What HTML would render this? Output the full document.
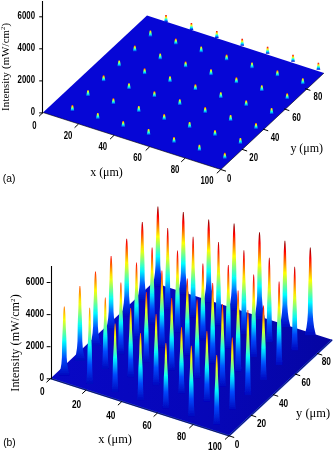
<!DOCTYPE html>
<html><head><meta charset="utf-8"><title>Figure</title>
<style>html,body{margin:0;padding:0;background:#fff}svg{display:block}</style></head>
<body><svg width="333" height="452" viewBox="0 0 333 452">
<defs><filter id="bla" x="-5%" y="-5%" width="110%" height="110%"><feGaussianBlur stdDeviation="0.35"/></filter><filter id="bl" x="-5%" y="-5%" width="110%" height="110%"><feGaussianBlur stdDeviation="0.6"/></filter><linearGradient id="ga_r" x1="0" y1="0" x2="0" y2="1"><stop offset="0.000" stop-color="rgb(209,0,0)"/><stop offset="0.111" stop-color="rgb(255,51,0)"/><stop offset="0.222" stop-color="rgb(255,149,0)"/><stop offset="0.333" stop-color="rgb(255,246,0)"/><stop offset="0.444" stop-color="rgb(165,255,89)"/><stop offset="0.556" stop-color="rgb(67,255,187)"/><stop offset="0.667" stop-color="rgb(0,225,255)"/><stop offset="0.778" stop-color="rgb(1,142,246)"/><stop offset="0.889" stop-color="rgb(3,74,230)"/><stop offset="1.000" stop-color="rgb(6,6,214)"/></linearGradient><linearGradient id="ga_y" x1="0" y1="0" x2="0" y2="1"><stop offset="0.000" stop-color="rgb(255,158,0)"/><stop offset="0.111" stop-color="rgb(255,224,0)"/><stop offset="0.222" stop-color="rgb(219,255,35)"/><stop offset="0.333" stop-color="rgb(153,255,101)"/><stop offset="0.444" stop-color="rgb(87,255,167)"/><stop offset="0.556" stop-color="rgb(21,255,233)"/><stop offset="0.667" stop-color="rgb(0,210,255)"/><stop offset="0.778" stop-color="rgb(1,142,246)"/><stop offset="0.889" stop-color="rgb(3,74,230)"/><stop offset="1.000" stop-color="rgb(6,6,214)"/></linearGradient><linearGradient id="ga_o" x1="0" y1="0" x2="0" y2="1"><stop offset="0.000" stop-color="rgb(255,56,0)"/><stop offset="0.111" stop-color="rgb(255,137,0)"/><stop offset="0.222" stop-color="rgb(255,219,0)"/><stop offset="0.333" stop-color="rgb(208,255,46)"/><stop offset="0.444" stop-color="rgb(126,255,128)"/><stop offset="0.556" stop-color="rgb(44,255,210)"/><stop offset="0.667" stop-color="rgb(0,217,255)"/><stop offset="0.778" stop-color="rgb(1,142,246)"/><stop offset="0.889" stop-color="rgb(3,74,230)"/><stop offset="1.000" stop-color="rgb(6,6,214)"/></linearGradient><linearGradient id="sb" gradientUnits="userSpaceOnUse" x1="50" y1="0" x2="333" y2="0"><stop offset="0" stop-color="#0808c6"/><stop offset="0.55" stop-color="#0606b8"/><stop offset="1" stop-color="#0505a2"/></linearGradient><linearGradient id="gb" x1="0" y1="0" x2="0" y2="1"><stop offset="0.000" stop-color="rgb(158,0,0)"/><stop offset="0.083" stop-color="rgb(237,0,0)"/><stop offset="0.167" stop-color="rgb(255,61,0)"/><stop offset="0.250" stop-color="rgb(255,140,0)"/><stop offset="0.333" stop-color="rgb(255,219,0)"/><stop offset="0.417" stop-color="rgb(211,255,43)"/><stop offset="0.500" stop-color="rgb(132,255,122)"/><stop offset="0.583" stop-color="rgb(53,255,201)"/><stop offset="0.667" stop-color="rgb(0,229,255)"/><stop offset="0.750" stop-color="rgb(0,159,250)"/><stop offset="0.833" stop-color="rgb(2,108,238)"/><stop offset="0.917" stop-color="rgb(4,57,226)"/><stop offset="1.000" stop-color="rgb(6,6,214)"/></linearGradient><linearGradient id="g06" x1="0" y1="0" x2="0" y2="1"><stop offset="0.000" stop-color="rgb(127,0,0)"/><stop offset="0.062" stop-color="rgb(191,0,0)"/><stop offset="0.125" stop-color="rgb(255,0,0)"/><stop offset="0.188" stop-color="rgb(255,63,0)"/><stop offset="0.250" stop-color="rgb(255,127,0)"/><stop offset="0.312" stop-color="rgb(255,191,0)"/><stop offset="0.375" stop-color="rgb(255,255,0)"/><stop offset="0.438" stop-color="rgb(191,255,63)"/><stop offset="0.500" stop-color="rgb(127,255,127)"/><stop offset="0.562" stop-color="rgb(63,255,191)"/><stop offset="0.625" stop-color="rgb(0,255,255)"/><stop offset="0.688" stop-color="rgb(0,191,255)"/><stop offset="0.750" stop-color="rgb(0,127,255)"/><stop offset="0.812" stop-color="rgb(0,71,250)"/><stop offset="0.875" stop-color="rgb(2,49,230)"/><stop offset="0.938" stop-color="rgb(4,27,210)"/><stop offset="1.000" stop-color="rgb(6,6,190)"/></linearGradient><linearGradient id="g16" x1="0" y1="0" x2="0" y2="1"><stop offset="0.000" stop-color="rgb(127,0,0)"/><stop offset="0.062" stop-color="rgb(191,0,0)"/><stop offset="0.125" stop-color="rgb(255,0,0)"/><stop offset="0.188" stop-color="rgb(255,63,0)"/><stop offset="0.250" stop-color="rgb(255,127,0)"/><stop offset="0.312" stop-color="rgb(255,191,0)"/><stop offset="0.375" stop-color="rgb(255,255,0)"/><stop offset="0.438" stop-color="rgb(191,255,63)"/><stop offset="0.500" stop-color="rgb(127,255,127)"/><stop offset="0.562" stop-color="rgb(63,255,191)"/><stop offset="0.625" stop-color="rgb(0,255,255)"/><stop offset="0.688" stop-color="rgb(0,191,255)"/><stop offset="0.750" stop-color="rgb(0,127,255)"/><stop offset="0.812" stop-color="rgb(0,71,250)"/><stop offset="0.875" stop-color="rgb(2,49,230)"/><stop offset="0.938" stop-color="rgb(4,27,210)"/><stop offset="1.000" stop-color="rgb(6,6,190)"/></linearGradient><linearGradient id="g26" x1="0" y1="0" x2="0" y2="1"><stop offset="0.000" stop-color="rgb(127,0,0)"/><stop offset="0.062" stop-color="rgb(191,0,0)"/><stop offset="0.125" stop-color="rgb(255,0,0)"/><stop offset="0.188" stop-color="rgb(255,63,0)"/><stop offset="0.250" stop-color="rgb(255,127,0)"/><stop offset="0.312" stop-color="rgb(255,191,0)"/><stop offset="0.375" stop-color="rgb(255,255,0)"/><stop offset="0.438" stop-color="rgb(191,255,63)"/><stop offset="0.500" stop-color="rgb(127,255,127)"/><stop offset="0.562" stop-color="rgb(63,255,191)"/><stop offset="0.625" stop-color="rgb(0,255,255)"/><stop offset="0.688" stop-color="rgb(0,191,255)"/><stop offset="0.750" stop-color="rgb(0,127,255)"/><stop offset="0.812" stop-color="rgb(0,71,250)"/><stop offset="0.875" stop-color="rgb(2,49,230)"/><stop offset="0.938" stop-color="rgb(4,27,210)"/><stop offset="1.000" stop-color="rgb(6,6,190)"/></linearGradient><linearGradient id="g36" x1="0" y1="0" x2="0" y2="1"><stop offset="0.000" stop-color="rgb(127,0,0)"/><stop offset="0.062" stop-color="rgb(191,0,0)"/><stop offset="0.125" stop-color="rgb(255,0,0)"/><stop offset="0.188" stop-color="rgb(255,63,0)"/><stop offset="0.250" stop-color="rgb(255,127,0)"/><stop offset="0.312" stop-color="rgb(255,191,0)"/><stop offset="0.375" stop-color="rgb(255,255,0)"/><stop offset="0.438" stop-color="rgb(191,255,63)"/><stop offset="0.500" stop-color="rgb(127,255,127)"/><stop offset="0.562" stop-color="rgb(63,255,191)"/><stop offset="0.625" stop-color="rgb(0,255,255)"/><stop offset="0.688" stop-color="rgb(0,191,255)"/><stop offset="0.750" stop-color="rgb(0,127,255)"/><stop offset="0.812" stop-color="rgb(0,71,250)"/><stop offset="0.875" stop-color="rgb(2,49,230)"/><stop offset="0.938" stop-color="rgb(4,27,210)"/><stop offset="1.000" stop-color="rgb(6,6,190)"/></linearGradient><linearGradient id="g46" x1="0" y1="0" x2="0" y2="1"><stop offset="0.000" stop-color="rgb(127,0,0)"/><stop offset="0.062" stop-color="rgb(191,0,0)"/><stop offset="0.125" stop-color="rgb(255,0,0)"/><stop offset="0.188" stop-color="rgb(255,63,0)"/><stop offset="0.250" stop-color="rgb(255,127,0)"/><stop offset="0.312" stop-color="rgb(255,191,0)"/><stop offset="0.375" stop-color="rgb(255,255,0)"/><stop offset="0.438" stop-color="rgb(191,255,63)"/><stop offset="0.500" stop-color="rgb(127,255,127)"/><stop offset="0.562" stop-color="rgb(63,255,191)"/><stop offset="0.625" stop-color="rgb(0,255,255)"/><stop offset="0.688" stop-color="rgb(0,191,255)"/><stop offset="0.750" stop-color="rgb(0,127,255)"/><stop offset="0.812" stop-color="rgb(0,71,250)"/><stop offset="0.875" stop-color="rgb(2,49,230)"/><stop offset="0.938" stop-color="rgb(4,27,210)"/><stop offset="1.000" stop-color="rgb(6,6,190)"/></linearGradient><linearGradient id="g56" x1="0" y1="0" x2="0" y2="1"><stop offset="0.000" stop-color="rgb(127,0,0)"/><stop offset="0.062" stop-color="rgb(191,0,0)"/><stop offset="0.125" stop-color="rgb(255,0,0)"/><stop offset="0.188" stop-color="rgb(255,63,0)"/><stop offset="0.250" stop-color="rgb(255,127,0)"/><stop offset="0.312" stop-color="rgb(255,191,0)"/><stop offset="0.375" stop-color="rgb(255,255,0)"/><stop offset="0.438" stop-color="rgb(191,255,63)"/><stop offset="0.500" stop-color="rgb(127,255,127)"/><stop offset="0.562" stop-color="rgb(63,255,191)"/><stop offset="0.625" stop-color="rgb(0,255,255)"/><stop offset="0.688" stop-color="rgb(0,191,255)"/><stop offset="0.750" stop-color="rgb(0,127,255)"/><stop offset="0.812" stop-color="rgb(0,71,250)"/><stop offset="0.875" stop-color="rgb(2,49,230)"/><stop offset="0.938" stop-color="rgb(4,27,210)"/><stop offset="1.000" stop-color="rgb(6,6,190)"/></linearGradient><linearGradient id="g66" x1="0" y1="0" x2="0" y2="1"><stop offset="0.000" stop-color="rgb(127,0,0)"/><stop offset="0.062" stop-color="rgb(191,0,0)"/><stop offset="0.125" stop-color="rgb(255,0,0)"/><stop offset="0.188" stop-color="rgb(255,63,0)"/><stop offset="0.250" stop-color="rgb(255,127,0)"/><stop offset="0.312" stop-color="rgb(255,191,0)"/><stop offset="0.375" stop-color="rgb(255,255,0)"/><stop offset="0.438" stop-color="rgb(191,255,63)"/><stop offset="0.500" stop-color="rgb(127,255,127)"/><stop offset="0.562" stop-color="rgb(63,255,191)"/><stop offset="0.625" stop-color="rgb(0,255,255)"/><stop offset="0.688" stop-color="rgb(0,191,255)"/><stop offset="0.750" stop-color="rgb(0,127,255)"/><stop offset="0.812" stop-color="rgb(0,71,250)"/><stop offset="0.875" stop-color="rgb(2,49,230)"/><stop offset="0.938" stop-color="rgb(4,27,210)"/><stop offset="1.000" stop-color="rgb(6,6,190)"/></linearGradient><linearGradient id="g05" x1="0" y1="0" x2="0" y2="1"><stop offset="0.000" stop-color="rgb(168,0,0)"/><stop offset="0.062" stop-color="rgb(229,0,0)"/><stop offset="0.125" stop-color="rgb(255,35,0)"/><stop offset="0.188" stop-color="rgb(255,96,0)"/><stop offset="0.250" stop-color="rgb(255,158,0)"/><stop offset="0.312" stop-color="rgb(255,219,0)"/><stop offset="0.375" stop-color="rgb(229,255,25)"/><stop offset="0.438" stop-color="rgb(168,255,86)"/><stop offset="0.500" stop-color="rgb(107,255,147)"/><stop offset="0.562" stop-color="rgb(45,255,209)"/><stop offset="0.625" stop-color="rgb(0,239,255)"/><stop offset="0.688" stop-color="rgb(0,178,255)"/><stop offset="0.750" stop-color="rgb(0,117,255)"/><stop offset="0.812" stop-color="rgb(0,69,248)"/><stop offset="0.875" stop-color="rgb(2,48,229)"/><stop offset="0.938" stop-color="rgb(4,27,209)"/><stop offset="1.000" stop-color="rgb(6,6,190)"/></linearGradient><linearGradient id="g15" x1="0" y1="0" x2="0" y2="1"><stop offset="0.000" stop-color="rgb(168,0,0)"/><stop offset="0.062" stop-color="rgb(229,0,0)"/><stop offset="0.125" stop-color="rgb(255,35,0)"/><stop offset="0.188" stop-color="rgb(255,96,0)"/><stop offset="0.250" stop-color="rgb(255,158,0)"/><stop offset="0.312" stop-color="rgb(255,219,0)"/><stop offset="0.375" stop-color="rgb(229,255,25)"/><stop offset="0.438" stop-color="rgb(168,255,86)"/><stop offset="0.500" stop-color="rgb(107,255,147)"/><stop offset="0.562" stop-color="rgb(45,255,209)"/><stop offset="0.625" stop-color="rgb(0,239,255)"/><stop offset="0.688" stop-color="rgb(0,178,255)"/><stop offset="0.750" stop-color="rgb(0,117,255)"/><stop offset="0.812" stop-color="rgb(0,69,248)"/><stop offset="0.875" stop-color="rgb(2,48,229)"/><stop offset="0.938" stop-color="rgb(4,27,209)"/><stop offset="1.000" stop-color="rgb(6,6,190)"/></linearGradient><linearGradient id="g25" x1="0" y1="0" x2="0" y2="1"><stop offset="0.000" stop-color="rgb(168,0,0)"/><stop offset="0.062" stop-color="rgb(229,0,0)"/><stop offset="0.125" stop-color="rgb(255,35,0)"/><stop offset="0.188" stop-color="rgb(255,96,0)"/><stop offset="0.250" stop-color="rgb(255,158,0)"/><stop offset="0.312" stop-color="rgb(255,219,0)"/><stop offset="0.375" stop-color="rgb(229,255,25)"/><stop offset="0.438" stop-color="rgb(168,255,86)"/><stop offset="0.500" stop-color="rgb(107,255,147)"/><stop offset="0.562" stop-color="rgb(45,255,209)"/><stop offset="0.625" stop-color="rgb(0,239,255)"/><stop offset="0.688" stop-color="rgb(0,178,255)"/><stop offset="0.750" stop-color="rgb(0,117,255)"/><stop offset="0.812" stop-color="rgb(0,69,248)"/><stop offset="0.875" stop-color="rgb(2,48,229)"/><stop offset="0.938" stop-color="rgb(4,27,209)"/><stop offset="1.000" stop-color="rgb(6,6,190)"/></linearGradient><linearGradient id="g35" x1="0" y1="0" x2="0" y2="1"><stop offset="0.000" stop-color="rgb(168,0,0)"/><stop offset="0.062" stop-color="rgb(229,0,0)"/><stop offset="0.125" stop-color="rgb(255,35,0)"/><stop offset="0.188" stop-color="rgb(255,96,0)"/><stop offset="0.250" stop-color="rgb(255,158,0)"/><stop offset="0.312" stop-color="rgb(255,219,0)"/><stop offset="0.375" stop-color="rgb(229,255,25)"/><stop offset="0.438" stop-color="rgb(168,255,86)"/><stop offset="0.500" stop-color="rgb(107,255,147)"/><stop offset="0.562" stop-color="rgb(45,255,209)"/><stop offset="0.625" stop-color="rgb(0,239,255)"/><stop offset="0.688" stop-color="rgb(0,178,255)"/><stop offset="0.750" stop-color="rgb(0,117,255)"/><stop offset="0.812" stop-color="rgb(0,69,248)"/><stop offset="0.875" stop-color="rgb(2,48,229)"/><stop offset="0.938" stop-color="rgb(4,27,209)"/><stop offset="1.000" stop-color="rgb(6,6,190)"/></linearGradient><linearGradient id="g45" x1="0" y1="0" x2="0" y2="1"><stop offset="0.000" stop-color="rgb(168,0,0)"/><stop offset="0.062" stop-color="rgb(229,0,0)"/><stop offset="0.125" stop-color="rgb(255,35,0)"/><stop offset="0.188" stop-color="rgb(255,96,0)"/><stop offset="0.250" stop-color="rgb(255,158,0)"/><stop offset="0.312" stop-color="rgb(255,219,0)"/><stop offset="0.375" stop-color="rgb(229,255,25)"/><stop offset="0.438" stop-color="rgb(168,255,86)"/><stop offset="0.500" stop-color="rgb(107,255,147)"/><stop offset="0.562" stop-color="rgb(45,255,209)"/><stop offset="0.625" stop-color="rgb(0,239,255)"/><stop offset="0.688" stop-color="rgb(0,178,255)"/><stop offset="0.750" stop-color="rgb(0,117,255)"/><stop offset="0.812" stop-color="rgb(0,69,248)"/><stop offset="0.875" stop-color="rgb(2,48,229)"/><stop offset="0.938" stop-color="rgb(4,27,209)"/><stop offset="1.000" stop-color="rgb(6,6,190)"/></linearGradient><linearGradient id="g55" x1="0" y1="0" x2="0" y2="1"><stop offset="0.000" stop-color="rgb(168,0,0)"/><stop offset="0.062" stop-color="rgb(229,0,0)"/><stop offset="0.125" stop-color="rgb(255,35,0)"/><stop offset="0.188" stop-color="rgb(255,96,0)"/><stop offset="0.250" stop-color="rgb(255,158,0)"/><stop offset="0.312" stop-color="rgb(255,219,0)"/><stop offset="0.375" stop-color="rgb(229,255,25)"/><stop offset="0.438" stop-color="rgb(168,255,86)"/><stop offset="0.500" stop-color="rgb(107,255,147)"/><stop offset="0.562" stop-color="rgb(45,255,209)"/><stop offset="0.625" stop-color="rgb(0,239,255)"/><stop offset="0.688" stop-color="rgb(0,178,255)"/><stop offset="0.750" stop-color="rgb(0,117,255)"/><stop offset="0.812" stop-color="rgb(0,69,248)"/><stop offset="0.875" stop-color="rgb(2,48,229)"/><stop offset="0.938" stop-color="rgb(4,27,209)"/><stop offset="1.000" stop-color="rgb(6,6,190)"/></linearGradient><linearGradient id="g65" x1="0" y1="0" x2="0" y2="1"><stop offset="0.000" stop-color="rgb(168,0,0)"/><stop offset="0.062" stop-color="rgb(229,0,0)"/><stop offset="0.125" stop-color="rgb(255,35,0)"/><stop offset="0.188" stop-color="rgb(255,96,0)"/><stop offset="0.250" stop-color="rgb(255,158,0)"/><stop offset="0.312" stop-color="rgb(255,219,0)"/><stop offset="0.375" stop-color="rgb(229,255,25)"/><stop offset="0.438" stop-color="rgb(168,255,86)"/><stop offset="0.500" stop-color="rgb(107,255,147)"/><stop offset="0.562" stop-color="rgb(45,255,209)"/><stop offset="0.625" stop-color="rgb(0,239,255)"/><stop offset="0.688" stop-color="rgb(0,178,255)"/><stop offset="0.750" stop-color="rgb(0,117,255)"/><stop offset="0.812" stop-color="rgb(0,69,248)"/><stop offset="0.875" stop-color="rgb(2,48,229)"/><stop offset="0.938" stop-color="rgb(4,27,209)"/><stop offset="1.000" stop-color="rgb(6,6,190)"/></linearGradient><linearGradient id="g04" x1="0" y1="0" x2="0" y2="1"><stop offset="0.000" stop-color="rgb(209,0,0)"/><stop offset="0.062" stop-color="rgb(255,12,0)"/><stop offset="0.125" stop-color="rgb(255,71,0)"/><stop offset="0.188" stop-color="rgb(255,130,0)"/><stop offset="0.250" stop-color="rgb(255,188,0)"/><stop offset="0.312" stop-color="rgb(255,247,0)"/><stop offset="0.375" stop-color="rgb(204,255,50)"/><stop offset="0.438" stop-color="rgb(145,255,109)"/><stop offset="0.500" stop-color="rgb(86,255,168)"/><stop offset="0.562" stop-color="rgb(28,255,226)"/><stop offset="0.625" stop-color="rgb(0,224,255)"/><stop offset="0.688" stop-color="rgb(0,165,255)"/><stop offset="0.750" stop-color="rgb(0,107,255)"/><stop offset="0.812" stop-color="rgb(0,66,246)"/><stop offset="0.875" stop-color="rgb(2,46,227)"/><stop offset="0.938" stop-color="rgb(4,26,208)"/><stop offset="1.000" stop-color="rgb(6,6,190)"/></linearGradient><linearGradient id="g14" x1="0" y1="0" x2="0" y2="1"><stop offset="0.000" stop-color="rgb(209,0,0)"/><stop offset="0.062" stop-color="rgb(255,12,0)"/><stop offset="0.125" stop-color="rgb(255,71,0)"/><stop offset="0.188" stop-color="rgb(255,130,0)"/><stop offset="0.250" stop-color="rgb(255,188,0)"/><stop offset="0.312" stop-color="rgb(255,247,0)"/><stop offset="0.375" stop-color="rgb(204,255,50)"/><stop offset="0.438" stop-color="rgb(145,255,109)"/><stop offset="0.500" stop-color="rgb(86,255,168)"/><stop offset="0.562" stop-color="rgb(28,255,226)"/><stop offset="0.625" stop-color="rgb(0,224,255)"/><stop offset="0.688" stop-color="rgb(0,165,255)"/><stop offset="0.750" stop-color="rgb(0,107,255)"/><stop offset="0.812" stop-color="rgb(0,66,246)"/><stop offset="0.875" stop-color="rgb(2,46,227)"/><stop offset="0.938" stop-color="rgb(4,26,208)"/><stop offset="1.000" stop-color="rgb(6,6,190)"/></linearGradient><linearGradient id="g24" x1="0" y1="0" x2="0" y2="1"><stop offset="0.000" stop-color="rgb(209,0,0)"/><stop offset="0.062" stop-color="rgb(255,12,0)"/><stop offset="0.125" stop-color="rgb(255,71,0)"/><stop offset="0.188" stop-color="rgb(255,130,0)"/><stop offset="0.250" stop-color="rgb(255,188,0)"/><stop offset="0.312" stop-color="rgb(255,247,0)"/><stop offset="0.375" stop-color="rgb(204,255,50)"/><stop offset="0.438" stop-color="rgb(145,255,109)"/><stop offset="0.500" stop-color="rgb(86,255,168)"/><stop offset="0.562" stop-color="rgb(28,255,226)"/><stop offset="0.625" stop-color="rgb(0,224,255)"/><stop offset="0.688" stop-color="rgb(0,165,255)"/><stop offset="0.750" stop-color="rgb(0,107,255)"/><stop offset="0.812" stop-color="rgb(0,66,246)"/><stop offset="0.875" stop-color="rgb(2,46,227)"/><stop offset="0.938" stop-color="rgb(4,26,208)"/><stop offset="1.000" stop-color="rgb(6,6,190)"/></linearGradient><linearGradient id="g34" x1="0" y1="0" x2="0" y2="1"><stop offset="0.000" stop-color="rgb(209,0,0)"/><stop offset="0.062" stop-color="rgb(255,12,0)"/><stop offset="0.125" stop-color="rgb(255,71,0)"/><stop offset="0.188" stop-color="rgb(255,130,0)"/><stop offset="0.250" stop-color="rgb(255,188,0)"/><stop offset="0.312" stop-color="rgb(255,247,0)"/><stop offset="0.375" stop-color="rgb(204,255,50)"/><stop offset="0.438" stop-color="rgb(145,255,109)"/><stop offset="0.500" stop-color="rgb(86,255,168)"/><stop offset="0.562" stop-color="rgb(28,255,226)"/><stop offset="0.625" stop-color="rgb(0,224,255)"/><stop offset="0.688" stop-color="rgb(0,165,255)"/><stop offset="0.750" stop-color="rgb(0,107,255)"/><stop offset="0.812" stop-color="rgb(0,66,246)"/><stop offset="0.875" stop-color="rgb(2,46,227)"/><stop offset="0.938" stop-color="rgb(4,26,208)"/><stop offset="1.000" stop-color="rgb(6,6,190)"/></linearGradient><linearGradient id="g44" x1="0" y1="0" x2="0" y2="1"><stop offset="0.000" stop-color="rgb(209,0,0)"/><stop offset="0.062" stop-color="rgb(255,12,0)"/><stop offset="0.125" stop-color="rgb(255,71,0)"/><stop offset="0.188" stop-color="rgb(255,130,0)"/><stop offset="0.250" stop-color="rgb(255,188,0)"/><stop offset="0.312" stop-color="rgb(255,247,0)"/><stop offset="0.375" stop-color="rgb(204,255,50)"/><stop offset="0.438" stop-color="rgb(145,255,109)"/><stop offset="0.500" stop-color="rgb(86,255,168)"/><stop offset="0.562" stop-color="rgb(28,255,226)"/><stop offset="0.625" stop-color="rgb(0,224,255)"/><stop offset="0.688" stop-color="rgb(0,165,255)"/><stop offset="0.750" stop-color="rgb(0,107,255)"/><stop offset="0.812" stop-color="rgb(0,66,246)"/><stop offset="0.875" stop-color="rgb(2,46,227)"/><stop offset="0.938" stop-color="rgb(4,26,208)"/><stop offset="1.000" stop-color="rgb(6,6,190)"/></linearGradient><linearGradient id="g54" x1="0" y1="0" x2="0" y2="1"><stop offset="0.000" stop-color="rgb(209,0,0)"/><stop offset="0.062" stop-color="rgb(255,12,0)"/><stop offset="0.125" stop-color="rgb(255,71,0)"/><stop offset="0.188" stop-color="rgb(255,130,0)"/><stop offset="0.250" stop-color="rgb(255,188,0)"/><stop offset="0.312" stop-color="rgb(255,247,0)"/><stop offset="0.375" stop-color="rgb(204,255,50)"/><stop offset="0.438" stop-color="rgb(145,255,109)"/><stop offset="0.500" stop-color="rgb(86,255,168)"/><stop offset="0.562" stop-color="rgb(28,255,226)"/><stop offset="0.625" stop-color="rgb(0,224,255)"/><stop offset="0.688" stop-color="rgb(0,165,255)"/><stop offset="0.750" stop-color="rgb(0,107,255)"/><stop offset="0.812" stop-color="rgb(0,66,246)"/><stop offset="0.875" stop-color="rgb(2,46,227)"/><stop offset="0.938" stop-color="rgb(4,26,208)"/><stop offset="1.000" stop-color="rgb(6,6,190)"/></linearGradient><linearGradient id="g64" x1="0" y1="0" x2="0" y2="1"><stop offset="0.000" stop-color="rgb(209,0,0)"/><stop offset="0.062" stop-color="rgb(255,12,0)"/><stop offset="0.125" stop-color="rgb(255,71,0)"/><stop offset="0.188" stop-color="rgb(255,130,0)"/><stop offset="0.250" stop-color="rgb(255,188,0)"/><stop offset="0.312" stop-color="rgb(255,247,0)"/><stop offset="0.375" stop-color="rgb(204,255,50)"/><stop offset="0.438" stop-color="rgb(145,255,109)"/><stop offset="0.500" stop-color="rgb(86,255,168)"/><stop offset="0.562" stop-color="rgb(28,255,226)"/><stop offset="0.625" stop-color="rgb(0,224,255)"/><stop offset="0.688" stop-color="rgb(0,165,255)"/><stop offset="0.750" stop-color="rgb(0,107,255)"/><stop offset="0.812" stop-color="rgb(0,66,246)"/><stop offset="0.875" stop-color="rgb(2,46,227)"/><stop offset="0.938" stop-color="rgb(4,26,208)"/><stop offset="1.000" stop-color="rgb(6,6,190)"/></linearGradient><linearGradient id="g03" x1="0" y1="0" x2="0" y2="1"><stop offset="0.000" stop-color="rgb(249,0,0)"/><stop offset="0.062" stop-color="rgb(255,51,0)"/><stop offset="0.125" stop-color="rgb(255,107,0)"/><stop offset="0.188" stop-color="rgb(255,163,0)"/><stop offset="0.250" stop-color="rgb(255,219,0)"/><stop offset="0.312" stop-color="rgb(234,255,20)"/><stop offset="0.375" stop-color="rgb(178,255,76)"/><stop offset="0.438" stop-color="rgb(122,255,132)"/><stop offset="0.500" stop-color="rgb(66,255,188)"/><stop offset="0.562" stop-color="rgb(10,255,244)"/><stop offset="0.625" stop-color="rgb(0,209,255)"/><stop offset="0.688" stop-color="rgb(0,153,255)"/><stop offset="0.750" stop-color="rgb(0,96,255)"/><stop offset="0.812" stop-color="rgb(1,63,243)"/><stop offset="0.875" stop-color="rgb(2,44,225)"/><stop offset="0.938" stop-color="rgb(4,25,207)"/><stop offset="1.000" stop-color="rgb(6,6,190)"/></linearGradient><linearGradient id="g13" x1="0" y1="0" x2="0" y2="1"><stop offset="0.000" stop-color="rgb(249,0,0)"/><stop offset="0.062" stop-color="rgb(255,51,0)"/><stop offset="0.125" stop-color="rgb(255,107,0)"/><stop offset="0.188" stop-color="rgb(255,163,0)"/><stop offset="0.250" stop-color="rgb(255,219,0)"/><stop offset="0.312" stop-color="rgb(234,255,20)"/><stop offset="0.375" stop-color="rgb(178,255,76)"/><stop offset="0.438" stop-color="rgb(122,255,132)"/><stop offset="0.500" stop-color="rgb(66,255,188)"/><stop offset="0.562" stop-color="rgb(10,255,244)"/><stop offset="0.625" stop-color="rgb(0,209,255)"/><stop offset="0.688" stop-color="rgb(0,153,255)"/><stop offset="0.750" stop-color="rgb(0,96,255)"/><stop offset="0.812" stop-color="rgb(1,63,243)"/><stop offset="0.875" stop-color="rgb(2,44,225)"/><stop offset="0.938" stop-color="rgb(4,25,207)"/><stop offset="1.000" stop-color="rgb(6,6,190)"/></linearGradient><linearGradient id="g23" x1="0" y1="0" x2="0" y2="1"><stop offset="0.000" stop-color="rgb(249,0,0)"/><stop offset="0.062" stop-color="rgb(255,51,0)"/><stop offset="0.125" stop-color="rgb(255,107,0)"/><stop offset="0.188" stop-color="rgb(255,163,0)"/><stop offset="0.250" stop-color="rgb(255,219,0)"/><stop offset="0.312" stop-color="rgb(234,255,20)"/><stop offset="0.375" stop-color="rgb(178,255,76)"/><stop offset="0.438" stop-color="rgb(122,255,132)"/><stop offset="0.500" stop-color="rgb(66,255,188)"/><stop offset="0.562" stop-color="rgb(10,255,244)"/><stop offset="0.625" stop-color="rgb(0,209,255)"/><stop offset="0.688" stop-color="rgb(0,153,255)"/><stop offset="0.750" stop-color="rgb(0,96,255)"/><stop offset="0.812" stop-color="rgb(1,63,243)"/><stop offset="0.875" stop-color="rgb(2,44,225)"/><stop offset="0.938" stop-color="rgb(4,25,207)"/><stop offset="1.000" stop-color="rgb(6,6,190)"/></linearGradient><linearGradient id="g33" x1="0" y1="0" x2="0" y2="1"><stop offset="0.000" stop-color="rgb(249,0,0)"/><stop offset="0.062" stop-color="rgb(255,51,0)"/><stop offset="0.125" stop-color="rgb(255,107,0)"/><stop offset="0.188" stop-color="rgb(255,163,0)"/><stop offset="0.250" stop-color="rgb(255,219,0)"/><stop offset="0.312" stop-color="rgb(234,255,20)"/><stop offset="0.375" stop-color="rgb(178,255,76)"/><stop offset="0.438" stop-color="rgb(122,255,132)"/><stop offset="0.500" stop-color="rgb(66,255,188)"/><stop offset="0.562" stop-color="rgb(10,255,244)"/><stop offset="0.625" stop-color="rgb(0,209,255)"/><stop offset="0.688" stop-color="rgb(0,153,255)"/><stop offset="0.750" stop-color="rgb(0,96,255)"/><stop offset="0.812" stop-color="rgb(1,63,243)"/><stop offset="0.875" stop-color="rgb(2,44,225)"/><stop offset="0.938" stop-color="rgb(4,25,207)"/><stop offset="1.000" stop-color="rgb(6,6,190)"/></linearGradient><linearGradient id="g43" x1="0" y1="0" x2="0" y2="1"><stop offset="0.000" stop-color="rgb(249,0,0)"/><stop offset="0.062" stop-color="rgb(255,51,0)"/><stop offset="0.125" stop-color="rgb(255,107,0)"/><stop offset="0.188" stop-color="rgb(255,163,0)"/><stop offset="0.250" stop-color="rgb(255,219,0)"/><stop offset="0.312" stop-color="rgb(234,255,20)"/><stop offset="0.375" stop-color="rgb(178,255,76)"/><stop offset="0.438" stop-color="rgb(122,255,132)"/><stop offset="0.500" stop-color="rgb(66,255,188)"/><stop offset="0.562" stop-color="rgb(10,255,244)"/><stop offset="0.625" stop-color="rgb(0,209,255)"/><stop offset="0.688" stop-color="rgb(0,153,255)"/><stop offset="0.750" stop-color="rgb(0,96,255)"/><stop offset="0.812" stop-color="rgb(1,63,243)"/><stop offset="0.875" stop-color="rgb(2,44,225)"/><stop offset="0.938" stop-color="rgb(4,25,207)"/><stop offset="1.000" stop-color="rgb(6,6,190)"/></linearGradient><linearGradient id="g53" x1="0" y1="0" x2="0" y2="1"><stop offset="0.000" stop-color="rgb(249,0,0)"/><stop offset="0.062" stop-color="rgb(255,51,0)"/><stop offset="0.125" stop-color="rgb(255,107,0)"/><stop offset="0.188" stop-color="rgb(255,163,0)"/><stop offset="0.250" stop-color="rgb(255,219,0)"/><stop offset="0.312" stop-color="rgb(234,255,20)"/><stop offset="0.375" stop-color="rgb(178,255,76)"/><stop offset="0.438" stop-color="rgb(122,255,132)"/><stop offset="0.500" stop-color="rgb(66,255,188)"/><stop offset="0.562" stop-color="rgb(10,255,244)"/><stop offset="0.625" stop-color="rgb(0,209,255)"/><stop offset="0.688" stop-color="rgb(0,153,255)"/><stop offset="0.750" stop-color="rgb(0,96,255)"/><stop offset="0.812" stop-color="rgb(1,63,243)"/><stop offset="0.875" stop-color="rgb(2,44,225)"/><stop offset="0.938" stop-color="rgb(4,25,207)"/><stop offset="1.000" stop-color="rgb(6,6,190)"/></linearGradient><linearGradient id="g63" x1="0" y1="0" x2="0" y2="1"><stop offset="0.000" stop-color="rgb(249,0,0)"/><stop offset="0.062" stop-color="rgb(255,51,0)"/><stop offset="0.125" stop-color="rgb(255,107,0)"/><stop offset="0.188" stop-color="rgb(255,163,0)"/><stop offset="0.250" stop-color="rgb(255,219,0)"/><stop offset="0.312" stop-color="rgb(234,255,20)"/><stop offset="0.375" stop-color="rgb(178,255,76)"/><stop offset="0.438" stop-color="rgb(122,255,132)"/><stop offset="0.500" stop-color="rgb(66,255,188)"/><stop offset="0.562" stop-color="rgb(10,255,244)"/><stop offset="0.625" stop-color="rgb(0,209,255)"/><stop offset="0.688" stop-color="rgb(0,153,255)"/><stop offset="0.750" stop-color="rgb(0,96,255)"/><stop offset="0.812" stop-color="rgb(1,63,243)"/><stop offset="0.875" stop-color="rgb(2,44,225)"/><stop offset="0.938" stop-color="rgb(4,25,207)"/><stop offset="1.000" stop-color="rgb(6,6,190)"/></linearGradient><linearGradient id="g02" x1="0" y1="0" x2="0" y2="1"><stop offset="0.000" stop-color="rgb(255,35,0)"/><stop offset="0.062" stop-color="rgb(255,89,0)"/><stop offset="0.125" stop-color="rgb(255,142,0)"/><stop offset="0.188" stop-color="rgb(255,196,0)"/><stop offset="0.250" stop-color="rgb(255,249,0)"/><stop offset="0.312" stop-color="rgb(206,255,48)"/><stop offset="0.375" stop-color="rgb(153,255,101)"/><stop offset="0.438" stop-color="rgb(99,255,155)"/><stop offset="0.500" stop-color="rgb(45,255,209)"/><stop offset="0.562" stop-color="rgb(0,247,255)"/><stop offset="0.625" stop-color="rgb(0,193,255)"/><stop offset="0.688" stop-color="rgb(0,140,255)"/><stop offset="0.750" stop-color="rgb(0,86,255)"/><stop offset="0.812" stop-color="rgb(1,61,241)"/><stop offset="0.875" stop-color="rgb(2,42,224)"/><stop offset="0.938" stop-color="rgb(4,24,207)"/><stop offset="1.000" stop-color="rgb(6,6,190)"/></linearGradient><linearGradient id="g12" x1="0" y1="0" x2="0" y2="1"><stop offset="0.000" stop-color="rgb(255,35,0)"/><stop offset="0.062" stop-color="rgb(255,89,0)"/><stop offset="0.125" stop-color="rgb(255,142,0)"/><stop offset="0.188" stop-color="rgb(255,196,0)"/><stop offset="0.250" stop-color="rgb(255,249,0)"/><stop offset="0.312" stop-color="rgb(206,255,48)"/><stop offset="0.375" stop-color="rgb(153,255,101)"/><stop offset="0.438" stop-color="rgb(99,255,155)"/><stop offset="0.500" stop-color="rgb(45,255,209)"/><stop offset="0.562" stop-color="rgb(0,247,255)"/><stop offset="0.625" stop-color="rgb(0,193,255)"/><stop offset="0.688" stop-color="rgb(0,140,255)"/><stop offset="0.750" stop-color="rgb(0,86,255)"/><stop offset="0.812" stop-color="rgb(1,61,241)"/><stop offset="0.875" stop-color="rgb(2,42,224)"/><stop offset="0.938" stop-color="rgb(4,24,207)"/><stop offset="1.000" stop-color="rgb(6,6,190)"/></linearGradient><linearGradient id="g22" x1="0" y1="0" x2="0" y2="1"><stop offset="0.000" stop-color="rgb(255,35,0)"/><stop offset="0.062" stop-color="rgb(255,89,0)"/><stop offset="0.125" stop-color="rgb(255,142,0)"/><stop offset="0.188" stop-color="rgb(255,196,0)"/><stop offset="0.250" stop-color="rgb(255,249,0)"/><stop offset="0.312" stop-color="rgb(206,255,48)"/><stop offset="0.375" stop-color="rgb(153,255,101)"/><stop offset="0.438" stop-color="rgb(99,255,155)"/><stop offset="0.500" stop-color="rgb(45,255,209)"/><stop offset="0.562" stop-color="rgb(0,247,255)"/><stop offset="0.625" stop-color="rgb(0,193,255)"/><stop offset="0.688" stop-color="rgb(0,140,255)"/><stop offset="0.750" stop-color="rgb(0,86,255)"/><stop offset="0.812" stop-color="rgb(1,61,241)"/><stop offset="0.875" stop-color="rgb(2,42,224)"/><stop offset="0.938" stop-color="rgb(4,24,207)"/><stop offset="1.000" stop-color="rgb(6,6,190)"/></linearGradient><linearGradient id="g32" x1="0" y1="0" x2="0" y2="1"><stop offset="0.000" stop-color="rgb(255,35,0)"/><stop offset="0.062" stop-color="rgb(255,89,0)"/><stop offset="0.125" stop-color="rgb(255,142,0)"/><stop offset="0.188" stop-color="rgb(255,196,0)"/><stop offset="0.250" stop-color="rgb(255,249,0)"/><stop offset="0.312" stop-color="rgb(206,255,48)"/><stop offset="0.375" stop-color="rgb(153,255,101)"/><stop offset="0.438" stop-color="rgb(99,255,155)"/><stop offset="0.500" stop-color="rgb(45,255,209)"/><stop offset="0.562" stop-color="rgb(0,247,255)"/><stop offset="0.625" stop-color="rgb(0,193,255)"/><stop offset="0.688" stop-color="rgb(0,140,255)"/><stop offset="0.750" stop-color="rgb(0,86,255)"/><stop offset="0.812" stop-color="rgb(1,61,241)"/><stop offset="0.875" stop-color="rgb(2,42,224)"/><stop offset="0.938" stop-color="rgb(4,24,207)"/><stop offset="1.000" stop-color="rgb(6,6,190)"/></linearGradient><linearGradient id="g42" x1="0" y1="0" x2="0" y2="1"><stop offset="0.000" stop-color="rgb(255,35,0)"/><stop offset="0.062" stop-color="rgb(255,89,0)"/><stop offset="0.125" stop-color="rgb(255,142,0)"/><stop offset="0.188" stop-color="rgb(255,196,0)"/><stop offset="0.250" stop-color="rgb(255,249,0)"/><stop offset="0.312" stop-color="rgb(206,255,48)"/><stop offset="0.375" stop-color="rgb(153,255,101)"/><stop offset="0.438" stop-color="rgb(99,255,155)"/><stop offset="0.500" stop-color="rgb(45,255,209)"/><stop offset="0.562" stop-color="rgb(0,247,255)"/><stop offset="0.625" stop-color="rgb(0,193,255)"/><stop offset="0.688" stop-color="rgb(0,140,255)"/><stop offset="0.750" stop-color="rgb(0,86,255)"/><stop offset="0.812" stop-color="rgb(1,61,241)"/><stop offset="0.875" stop-color="rgb(2,42,224)"/><stop offset="0.938" stop-color="rgb(4,24,207)"/><stop offset="1.000" stop-color="rgb(6,6,190)"/></linearGradient><linearGradient id="g52" x1="0" y1="0" x2="0" y2="1"><stop offset="0.000" stop-color="rgb(255,35,0)"/><stop offset="0.062" stop-color="rgb(255,89,0)"/><stop offset="0.125" stop-color="rgb(255,142,0)"/><stop offset="0.188" stop-color="rgb(255,196,0)"/><stop offset="0.250" stop-color="rgb(255,249,0)"/><stop offset="0.312" stop-color="rgb(206,255,48)"/><stop offset="0.375" stop-color="rgb(153,255,101)"/><stop offset="0.438" stop-color="rgb(99,255,155)"/><stop offset="0.500" stop-color="rgb(45,255,209)"/><stop offset="0.562" stop-color="rgb(0,247,255)"/><stop offset="0.625" stop-color="rgb(0,193,255)"/><stop offset="0.688" stop-color="rgb(0,140,255)"/><stop offset="0.750" stop-color="rgb(0,86,255)"/><stop offset="0.812" stop-color="rgb(1,61,241)"/><stop offset="0.875" stop-color="rgb(2,42,224)"/><stop offset="0.938" stop-color="rgb(4,24,207)"/><stop offset="1.000" stop-color="rgb(6,6,190)"/></linearGradient><linearGradient id="g62" x1="0" y1="0" x2="0" y2="1"><stop offset="0.000" stop-color="rgb(255,35,0)"/><stop offset="0.062" stop-color="rgb(255,89,0)"/><stop offset="0.125" stop-color="rgb(255,142,0)"/><stop offset="0.188" stop-color="rgb(255,196,0)"/><stop offset="0.250" stop-color="rgb(255,249,0)"/><stop offset="0.312" stop-color="rgb(206,255,48)"/><stop offset="0.375" stop-color="rgb(153,255,101)"/><stop offset="0.438" stop-color="rgb(99,255,155)"/><stop offset="0.500" stop-color="rgb(45,255,209)"/><stop offset="0.562" stop-color="rgb(0,247,255)"/><stop offset="0.625" stop-color="rgb(0,193,255)"/><stop offset="0.688" stop-color="rgb(0,140,255)"/><stop offset="0.750" stop-color="rgb(0,86,255)"/><stop offset="0.812" stop-color="rgb(1,61,241)"/><stop offset="0.875" stop-color="rgb(2,42,224)"/><stop offset="0.938" stop-color="rgb(4,24,207)"/><stop offset="1.000" stop-color="rgb(6,6,190)"/></linearGradient><linearGradient id="g01" x1="0" y1="0" x2="0" y2="1"><stop offset="0.000" stop-color="rgb(255,76,0)"/><stop offset="0.062" stop-color="rgb(255,127,0)"/><stop offset="0.125" stop-color="rgb(255,178,0)"/><stop offset="0.188" stop-color="rgb(255,229,0)"/><stop offset="0.250" stop-color="rgb(229,255,25)"/><stop offset="0.312" stop-color="rgb(178,255,76)"/><stop offset="0.375" stop-color="rgb(127,255,127)"/><stop offset="0.438" stop-color="rgb(76,255,178)"/><stop offset="0.500" stop-color="rgb(25,255,229)"/><stop offset="0.562" stop-color="rgb(0,229,255)"/><stop offset="0.625" stop-color="rgb(0,178,255)"/><stop offset="0.688" stop-color="rgb(0,127,255)"/><stop offset="0.750" stop-color="rgb(0,76,255)"/><stop offset="0.812" stop-color="rgb(1,58,238)"/><stop offset="0.875" stop-color="rgb(3,41,222)"/><stop offset="0.938" stop-color="rgb(4,23,206)"/><stop offset="1.000" stop-color="rgb(6,6,190)"/></linearGradient><linearGradient id="g11" x1="0" y1="0" x2="0" y2="1"><stop offset="0.000" stop-color="rgb(255,76,0)"/><stop offset="0.062" stop-color="rgb(255,127,0)"/><stop offset="0.125" stop-color="rgb(255,178,0)"/><stop offset="0.188" stop-color="rgb(255,229,0)"/><stop offset="0.250" stop-color="rgb(229,255,25)"/><stop offset="0.312" stop-color="rgb(178,255,76)"/><stop offset="0.375" stop-color="rgb(127,255,127)"/><stop offset="0.438" stop-color="rgb(76,255,178)"/><stop offset="0.500" stop-color="rgb(25,255,229)"/><stop offset="0.562" stop-color="rgb(0,229,255)"/><stop offset="0.625" stop-color="rgb(0,178,255)"/><stop offset="0.688" stop-color="rgb(0,127,255)"/><stop offset="0.750" stop-color="rgb(0,76,255)"/><stop offset="0.812" stop-color="rgb(1,58,238)"/><stop offset="0.875" stop-color="rgb(3,41,222)"/><stop offset="0.938" stop-color="rgb(4,23,206)"/><stop offset="1.000" stop-color="rgb(6,6,190)"/></linearGradient><linearGradient id="g21" x1="0" y1="0" x2="0" y2="1"><stop offset="0.000" stop-color="rgb(255,76,0)"/><stop offset="0.062" stop-color="rgb(255,127,0)"/><stop offset="0.125" stop-color="rgb(255,178,0)"/><stop offset="0.188" stop-color="rgb(255,229,0)"/><stop offset="0.250" stop-color="rgb(229,255,25)"/><stop offset="0.312" stop-color="rgb(178,255,76)"/><stop offset="0.375" stop-color="rgb(127,255,127)"/><stop offset="0.438" stop-color="rgb(76,255,178)"/><stop offset="0.500" stop-color="rgb(25,255,229)"/><stop offset="0.562" stop-color="rgb(0,229,255)"/><stop offset="0.625" stop-color="rgb(0,178,255)"/><stop offset="0.688" stop-color="rgb(0,127,255)"/><stop offset="0.750" stop-color="rgb(0,76,255)"/><stop offset="0.812" stop-color="rgb(1,58,238)"/><stop offset="0.875" stop-color="rgb(3,41,222)"/><stop offset="0.938" stop-color="rgb(4,23,206)"/><stop offset="1.000" stop-color="rgb(6,6,190)"/></linearGradient><linearGradient id="g31" x1="0" y1="0" x2="0" y2="1"><stop offset="0.000" stop-color="rgb(255,76,0)"/><stop offset="0.062" stop-color="rgb(255,127,0)"/><stop offset="0.125" stop-color="rgb(255,178,0)"/><stop offset="0.188" stop-color="rgb(255,229,0)"/><stop offset="0.250" stop-color="rgb(229,255,25)"/><stop offset="0.312" stop-color="rgb(178,255,76)"/><stop offset="0.375" stop-color="rgb(127,255,127)"/><stop offset="0.438" stop-color="rgb(76,255,178)"/><stop offset="0.500" stop-color="rgb(25,255,229)"/><stop offset="0.562" stop-color="rgb(0,229,255)"/><stop offset="0.625" stop-color="rgb(0,178,255)"/><stop offset="0.688" stop-color="rgb(0,127,255)"/><stop offset="0.750" stop-color="rgb(0,76,255)"/><stop offset="0.812" stop-color="rgb(1,58,238)"/><stop offset="0.875" stop-color="rgb(3,41,222)"/><stop offset="0.938" stop-color="rgb(4,23,206)"/><stop offset="1.000" stop-color="rgb(6,6,190)"/></linearGradient><linearGradient id="g41" x1="0" y1="0" x2="0" y2="1"><stop offset="0.000" stop-color="rgb(255,76,0)"/><stop offset="0.062" stop-color="rgb(255,127,0)"/><stop offset="0.125" stop-color="rgb(255,178,0)"/><stop offset="0.188" stop-color="rgb(255,229,0)"/><stop offset="0.250" stop-color="rgb(229,255,25)"/><stop offset="0.312" stop-color="rgb(178,255,76)"/><stop offset="0.375" stop-color="rgb(127,255,127)"/><stop offset="0.438" stop-color="rgb(76,255,178)"/><stop offset="0.500" stop-color="rgb(25,255,229)"/><stop offset="0.562" stop-color="rgb(0,229,255)"/><stop offset="0.625" stop-color="rgb(0,178,255)"/><stop offset="0.688" stop-color="rgb(0,127,255)"/><stop offset="0.750" stop-color="rgb(0,76,255)"/><stop offset="0.812" stop-color="rgb(1,58,238)"/><stop offset="0.875" stop-color="rgb(3,41,222)"/><stop offset="0.938" stop-color="rgb(4,23,206)"/><stop offset="1.000" stop-color="rgb(6,6,190)"/></linearGradient><linearGradient id="g51" x1="0" y1="0" x2="0" y2="1"><stop offset="0.000" stop-color="rgb(255,76,0)"/><stop offset="0.062" stop-color="rgb(255,127,0)"/><stop offset="0.125" stop-color="rgb(255,178,0)"/><stop offset="0.188" stop-color="rgb(255,229,0)"/><stop offset="0.250" stop-color="rgb(229,255,25)"/><stop offset="0.312" stop-color="rgb(178,255,76)"/><stop offset="0.375" stop-color="rgb(127,255,127)"/><stop offset="0.438" stop-color="rgb(76,255,178)"/><stop offset="0.500" stop-color="rgb(25,255,229)"/><stop offset="0.562" stop-color="rgb(0,229,255)"/><stop offset="0.625" stop-color="rgb(0,178,255)"/><stop offset="0.688" stop-color="rgb(0,127,255)"/><stop offset="0.750" stop-color="rgb(0,76,255)"/><stop offset="0.812" stop-color="rgb(1,58,238)"/><stop offset="0.875" stop-color="rgb(3,41,222)"/><stop offset="0.938" stop-color="rgb(4,23,206)"/><stop offset="1.000" stop-color="rgb(6,6,190)"/></linearGradient><linearGradient id="g61" x1="0" y1="0" x2="0" y2="1"><stop offset="0.000" stop-color="rgb(255,76,0)"/><stop offset="0.062" stop-color="rgb(255,127,0)"/><stop offset="0.125" stop-color="rgb(255,178,0)"/><stop offset="0.188" stop-color="rgb(255,229,0)"/><stop offset="0.250" stop-color="rgb(229,255,25)"/><stop offset="0.312" stop-color="rgb(178,255,76)"/><stop offset="0.375" stop-color="rgb(127,255,127)"/><stop offset="0.438" stop-color="rgb(76,255,178)"/><stop offset="0.500" stop-color="rgb(25,255,229)"/><stop offset="0.562" stop-color="rgb(0,229,255)"/><stop offset="0.625" stop-color="rgb(0,178,255)"/><stop offset="0.688" stop-color="rgb(0,127,255)"/><stop offset="0.750" stop-color="rgb(0,76,255)"/><stop offset="0.812" stop-color="rgb(1,58,238)"/><stop offset="0.875" stop-color="rgb(3,41,222)"/><stop offset="0.938" stop-color="rgb(4,23,206)"/><stop offset="1.000" stop-color="rgb(6,6,190)"/></linearGradient><linearGradient id="g00" x1="0" y1="0" x2="0" y2="1"><stop offset="0.000" stop-color="rgb(255,117,0)"/><stop offset="0.062" stop-color="rgb(255,165,0)"/><stop offset="0.125" stop-color="rgb(255,214,0)"/><stop offset="0.188" stop-color="rgb(247,255,7)"/><stop offset="0.250" stop-color="rgb(198,255,56)"/><stop offset="0.312" stop-color="rgb(150,255,104)"/><stop offset="0.375" stop-color="rgb(101,255,153)"/><stop offset="0.438" stop-color="rgb(53,255,201)"/><stop offset="0.500" stop-color="rgb(5,255,249)"/><stop offset="0.562" stop-color="rgb(0,211,255)"/><stop offset="0.625" stop-color="rgb(0,163,255)"/><stop offset="0.688" stop-color="rgb(0,114,255)"/><stop offset="0.750" stop-color="rgb(0,72,251)"/><stop offset="0.812" stop-color="rgb(1,55,236)"/><stop offset="0.875" stop-color="rgb(3,39,220)"/><stop offset="0.938" stop-color="rgb(4,22,205)"/><stop offset="1.000" stop-color="rgb(6,6,190)"/></linearGradient><linearGradient id="g10" x1="0" y1="0" x2="0" y2="1"><stop offset="0.000" stop-color="rgb(255,117,0)"/><stop offset="0.062" stop-color="rgb(255,165,0)"/><stop offset="0.125" stop-color="rgb(255,214,0)"/><stop offset="0.188" stop-color="rgb(247,255,7)"/><stop offset="0.250" stop-color="rgb(198,255,56)"/><stop offset="0.312" stop-color="rgb(150,255,104)"/><stop offset="0.375" stop-color="rgb(101,255,153)"/><stop offset="0.438" stop-color="rgb(53,255,201)"/><stop offset="0.500" stop-color="rgb(5,255,249)"/><stop offset="0.562" stop-color="rgb(0,211,255)"/><stop offset="0.625" stop-color="rgb(0,163,255)"/><stop offset="0.688" stop-color="rgb(0,114,255)"/><stop offset="0.750" stop-color="rgb(0,72,251)"/><stop offset="0.812" stop-color="rgb(1,55,236)"/><stop offset="0.875" stop-color="rgb(3,39,220)"/><stop offset="0.938" stop-color="rgb(4,22,205)"/><stop offset="1.000" stop-color="rgb(6,6,190)"/></linearGradient><linearGradient id="g20" x1="0" y1="0" x2="0" y2="1"><stop offset="0.000" stop-color="rgb(255,117,0)"/><stop offset="0.062" stop-color="rgb(255,165,0)"/><stop offset="0.125" stop-color="rgb(255,214,0)"/><stop offset="0.188" stop-color="rgb(247,255,7)"/><stop offset="0.250" stop-color="rgb(198,255,56)"/><stop offset="0.312" stop-color="rgb(150,255,104)"/><stop offset="0.375" stop-color="rgb(101,255,153)"/><stop offset="0.438" stop-color="rgb(53,255,201)"/><stop offset="0.500" stop-color="rgb(5,255,249)"/><stop offset="0.562" stop-color="rgb(0,211,255)"/><stop offset="0.625" stop-color="rgb(0,163,255)"/><stop offset="0.688" stop-color="rgb(0,114,255)"/><stop offset="0.750" stop-color="rgb(0,72,251)"/><stop offset="0.812" stop-color="rgb(1,55,236)"/><stop offset="0.875" stop-color="rgb(3,39,220)"/><stop offset="0.938" stop-color="rgb(4,22,205)"/><stop offset="1.000" stop-color="rgb(6,6,190)"/></linearGradient><linearGradient id="g30" x1="0" y1="0" x2="0" y2="1"><stop offset="0.000" stop-color="rgb(255,117,0)"/><stop offset="0.062" stop-color="rgb(255,165,0)"/><stop offset="0.125" stop-color="rgb(255,214,0)"/><stop offset="0.188" stop-color="rgb(247,255,7)"/><stop offset="0.250" stop-color="rgb(198,255,56)"/><stop offset="0.312" stop-color="rgb(150,255,104)"/><stop offset="0.375" stop-color="rgb(101,255,153)"/><stop offset="0.438" stop-color="rgb(53,255,201)"/><stop offset="0.500" stop-color="rgb(5,255,249)"/><stop offset="0.562" stop-color="rgb(0,211,255)"/><stop offset="0.625" stop-color="rgb(0,163,255)"/><stop offset="0.688" stop-color="rgb(0,114,255)"/><stop offset="0.750" stop-color="rgb(0,72,251)"/><stop offset="0.812" stop-color="rgb(1,55,236)"/><stop offset="0.875" stop-color="rgb(3,39,220)"/><stop offset="0.938" stop-color="rgb(4,22,205)"/><stop offset="1.000" stop-color="rgb(6,6,190)"/></linearGradient><linearGradient id="g40" x1="0" y1="0" x2="0" y2="1"><stop offset="0.000" stop-color="rgb(255,117,0)"/><stop offset="0.062" stop-color="rgb(255,165,0)"/><stop offset="0.125" stop-color="rgb(255,214,0)"/><stop offset="0.188" stop-color="rgb(247,255,7)"/><stop offset="0.250" stop-color="rgb(198,255,56)"/><stop offset="0.312" stop-color="rgb(150,255,104)"/><stop offset="0.375" stop-color="rgb(101,255,153)"/><stop offset="0.438" stop-color="rgb(53,255,201)"/><stop offset="0.500" stop-color="rgb(5,255,249)"/><stop offset="0.562" stop-color="rgb(0,211,255)"/><stop offset="0.625" stop-color="rgb(0,163,255)"/><stop offset="0.688" stop-color="rgb(0,114,255)"/><stop offset="0.750" stop-color="rgb(0,72,251)"/><stop offset="0.812" stop-color="rgb(1,55,236)"/><stop offset="0.875" stop-color="rgb(3,39,220)"/><stop offset="0.938" stop-color="rgb(4,22,205)"/><stop offset="1.000" stop-color="rgb(6,6,190)"/></linearGradient><linearGradient id="g50" x1="0" y1="0" x2="0" y2="1"><stop offset="0.000" stop-color="rgb(255,117,0)"/><stop offset="0.062" stop-color="rgb(255,165,0)"/><stop offset="0.125" stop-color="rgb(255,214,0)"/><stop offset="0.188" stop-color="rgb(247,255,7)"/><stop offset="0.250" stop-color="rgb(198,255,56)"/><stop offset="0.312" stop-color="rgb(150,255,104)"/><stop offset="0.375" stop-color="rgb(101,255,153)"/><stop offset="0.438" stop-color="rgb(53,255,201)"/><stop offset="0.500" stop-color="rgb(5,255,249)"/><stop offset="0.562" stop-color="rgb(0,211,255)"/><stop offset="0.625" stop-color="rgb(0,163,255)"/><stop offset="0.688" stop-color="rgb(0,114,255)"/><stop offset="0.750" stop-color="rgb(0,72,251)"/><stop offset="0.812" stop-color="rgb(1,55,236)"/><stop offset="0.875" stop-color="rgb(3,39,220)"/><stop offset="0.938" stop-color="rgb(4,22,205)"/><stop offset="1.000" stop-color="rgb(6,6,190)"/></linearGradient><linearGradient id="g60" x1="0" y1="0" x2="0" y2="1"><stop offset="0.000" stop-color="rgb(255,117,0)"/><stop offset="0.062" stop-color="rgb(255,165,0)"/><stop offset="0.125" stop-color="rgb(255,214,0)"/><stop offset="0.188" stop-color="rgb(247,255,7)"/><stop offset="0.250" stop-color="rgb(198,255,56)"/><stop offset="0.312" stop-color="rgb(150,255,104)"/><stop offset="0.375" stop-color="rgb(101,255,153)"/><stop offset="0.438" stop-color="rgb(53,255,201)"/><stop offset="0.500" stop-color="rgb(5,255,249)"/><stop offset="0.562" stop-color="rgb(0,211,255)"/><stop offset="0.625" stop-color="rgb(0,163,255)"/><stop offset="0.688" stop-color="rgb(0,114,255)"/><stop offset="0.750" stop-color="rgb(0,72,251)"/><stop offset="0.812" stop-color="rgb(1,55,236)"/><stop offset="0.875" stop-color="rgb(3,39,220)"/><stop offset="0.938" stop-color="rgb(4,22,205)"/><stop offset="1.000" stop-color="rgb(6,6,190)"/></linearGradient></defs>
<rect width="333" height="452" fill="#fff"/>
<polygon points="43,112.5 147,15.5 324,73 220.8,169.5" fill="#0606d6"/>
<g filter="url(#bla)">
<path d="M165.30,15.00 L166.70,15.00 L167.70,21.00 L167.90,22.00 L164.10,22.00 L164.30,21.00Z" fill="url(#ga_r)"/>
<path d="M190.70,22.95 L192.10,22.95 L193.10,28.95 L193.30,29.95 L189.50,29.95 L189.70,28.95Z" fill="url(#ga_r)"/>
<path d="M216.10,30.90 L217.50,30.90 L218.50,36.90 L218.70,37.90 L214.90,37.90 L215.10,36.90Z" fill="url(#ga_r)"/>
<path d="M241.50,38.85 L242.90,38.85 L243.90,44.85 L244.10,45.85 L240.30,45.85 L240.50,44.85Z" fill="url(#ga_r)"/>
<path d="M266.90,46.80 L268.30,46.80 L269.30,52.80 L269.50,53.80 L265.70,53.80 L265.90,52.80Z" fill="url(#ga_r)"/>
<path d="M292.30,54.75 L293.70,54.75 L294.70,60.75 L294.90,61.75 L291.10,61.75 L291.30,60.75Z" fill="url(#ga_r)"/>
<path d="M317.70,62.70 L319.10,62.70 L320.10,68.70 L320.30,69.70 L316.50,69.70 L316.70,68.70Z" fill="url(#ga_r)"/>
<path d="M149.70,30.60 L151.10,30.60 L152.10,35.90 L152.30,36.90 L148.50,36.90 L148.70,35.90Z" fill="url(#ga_y)"/>
<path d="M175.10,38.55 L176.50,38.55 L177.50,43.85 L177.70,44.85 L173.90,44.85 L174.10,43.85Z" fill="url(#ga_o)"/>
<path d="M200.50,46.50 L201.90,46.50 L202.90,51.80 L203.10,52.80 L199.30,52.80 L199.50,51.80Z" fill="url(#ga_y)"/>
<path d="M225.90,54.45 L227.30,54.45 L228.30,59.75 L228.50,60.75 L224.70,60.75 L224.90,59.75Z" fill="url(#ga_o)"/>
<path d="M251.30,62.40 L252.70,62.40 L253.70,67.70 L253.90,68.70 L250.10,68.70 L250.30,67.70Z" fill="url(#ga_y)"/>
<path d="M276.70,70.35 L278.10,70.35 L279.10,75.65 L279.30,76.65 L275.50,76.65 L275.70,75.65Z" fill="url(#ga_o)"/>
<path d="M302.10,78.30 L303.50,78.30 L304.50,83.60 L304.70,84.60 L300.90,84.60 L301.10,83.60Z" fill="url(#ga_y)"/>
<path d="M134.10,45.50 L135.50,45.50 L136.50,50.80 L136.70,51.80 L132.90,51.80 L133.10,50.80Z" fill="url(#ga_o)"/>
<path d="M159.50,53.45 L160.90,53.45 L161.90,58.75 L162.10,59.75 L158.30,59.75 L158.50,58.75Z" fill="url(#ga_y)"/>
<path d="M184.90,61.40 L186.30,61.40 L187.30,66.70 L187.50,67.70 L183.70,67.70 L183.90,66.70Z" fill="url(#ga_o)"/>
<path d="M210.30,69.35 L211.70,69.35 L212.70,74.65 L212.90,75.65 L209.10,75.65 L209.30,74.65Z" fill="url(#ga_y)"/>
<path d="M235.70,77.30 L237.10,77.30 L238.10,82.60 L238.30,83.60 L234.50,83.60 L234.70,82.60Z" fill="url(#ga_o)"/>
<path d="M261.10,85.25 L262.50,85.25 L263.50,90.55 L263.70,91.55 L259.90,91.55 L260.10,90.55Z" fill="url(#ga_y)"/>
<path d="M286.50,93.20 L287.90,93.20 L288.90,98.50 L289.10,99.50 L285.30,99.50 L285.50,98.50Z" fill="url(#ga_o)"/>
<path d="M118.50,60.40 L119.90,60.40 L120.90,65.70 L121.10,66.70 L117.30,66.70 L117.50,65.70Z" fill="url(#ga_y)"/>
<path d="M143.90,68.35 L145.30,68.35 L146.30,73.65 L146.50,74.65 L142.70,74.65 L142.90,73.65Z" fill="url(#ga_o)"/>
<path d="M169.30,76.30 L170.70,76.30 L171.70,81.60 L171.90,82.60 L168.10,82.60 L168.30,81.60Z" fill="url(#ga_y)"/>
<path d="M194.70,84.25 L196.10,84.25 L197.10,89.55 L197.30,90.55 L193.50,90.55 L193.70,89.55Z" fill="url(#ga_o)"/>
<path d="M220.10,92.20 L221.50,92.20 L222.50,97.50 L222.70,98.50 L218.90,98.50 L219.10,97.50Z" fill="url(#ga_y)"/>
<path d="M245.50,100.15 L246.90,100.15 L247.90,105.45 L248.10,106.45 L244.30,106.45 L244.50,105.45Z" fill="url(#ga_o)"/>
<path d="M270.90,108.10 L272.30,108.10 L273.30,113.40 L273.50,114.40 L269.70,114.40 L269.90,113.40Z" fill="url(#ga_y)"/>
<path d="M102.90,75.30 L104.30,75.30 L105.30,80.60 L105.50,81.60 L101.70,81.60 L101.90,80.60Z" fill="url(#ga_o)"/>
<path d="M128.30,83.25 L129.70,83.25 L130.70,88.55 L130.90,89.55 L127.10,89.55 L127.30,88.55Z" fill="url(#ga_y)"/>
<path d="M153.70,91.20 L155.10,91.20 L156.10,96.50 L156.30,97.50 L152.50,97.50 L152.70,96.50Z" fill="url(#ga_o)"/>
<path d="M179.10,99.15 L180.50,99.15 L181.50,104.45 L181.70,105.45 L177.90,105.45 L178.10,104.45Z" fill="url(#ga_y)"/>
<path d="M204.50,107.10 L205.90,107.10 L206.90,112.40 L207.10,113.40 L203.30,113.40 L203.50,112.40Z" fill="url(#ga_o)"/>
<path d="M229.90,115.05 L231.30,115.05 L232.30,120.35 L232.50,121.35 L228.70,121.35 L228.90,120.35Z" fill="url(#ga_y)"/>
<path d="M255.30,123.00 L256.70,123.00 L257.70,128.30 L257.90,129.30 L254.10,129.30 L254.30,128.30Z" fill="url(#ga_o)"/>
<path d="M87.30,90.20 L88.70,90.20 L89.70,95.50 L89.90,96.50 L86.10,96.50 L86.30,95.50Z" fill="url(#ga_y)"/>
<path d="M112.70,98.15 L114.10,98.15 L115.10,103.45 L115.30,104.45 L111.50,104.45 L111.70,103.45Z" fill="url(#ga_o)"/>
<path d="M138.10,106.10 L139.50,106.10 L140.50,111.40 L140.70,112.40 L136.90,112.40 L137.10,111.40Z" fill="url(#ga_y)"/>
<path d="M163.50,114.05 L164.90,114.05 L165.90,119.35 L166.10,120.35 L162.30,120.35 L162.50,119.35Z" fill="url(#ga_o)"/>
<path d="M188.90,122.00 L190.30,122.00 L191.30,127.30 L191.50,128.30 L187.70,128.30 L187.90,127.30Z" fill="url(#ga_y)"/>
<path d="M214.30,129.95 L215.70,129.95 L216.70,135.25 L216.90,136.25 L213.10,136.25 L213.30,135.25Z" fill="url(#ga_o)"/>
<path d="M239.70,137.90 L241.10,137.90 L242.10,143.20 L242.30,144.20 L238.50,144.20 L238.70,143.20Z" fill="url(#ga_y)"/>
<path d="M71.70,105.10 L73.10,105.10 L74.10,110.40 L74.30,111.40 L70.50,111.40 L70.70,110.40Z" fill="url(#ga_o)"/>
<path d="M97.10,113.05 L98.50,113.05 L99.50,118.35 L99.70,119.35 L95.90,119.35 L96.10,118.35Z" fill="url(#ga_y)"/>
<path d="M122.50,121.00 L123.90,121.00 L124.90,126.30 L125.10,127.30 L121.30,127.30 L121.50,126.30Z" fill="url(#ga_o)"/>
<path d="M147.90,128.95 L149.30,128.95 L150.30,134.25 L150.50,135.25 L146.70,135.25 L146.90,134.25Z" fill="url(#ga_y)"/>
<path d="M173.30,136.90 L174.70,136.90 L175.70,142.20 L175.90,143.20 L172.10,143.20 L172.30,142.20Z" fill="url(#ga_o)"/>
<path d="M198.70,144.85 L200.10,144.85 L201.10,150.15 L201.30,151.15 L197.50,151.15 L197.70,150.15Z" fill="url(#ga_y)"/>
<path d="M224.10,152.80 L225.50,152.80 L226.50,158.10 L226.70,159.10 L222.90,159.10 L223.10,158.10Z" fill="url(#ga_o)"/>
</g>
<path d="M42.5,1.0 V113.0" stroke="#000" stroke-width="1.1" fill="none"/>
<path d="M39.2,112.9 H43.0" stroke="#000" stroke-width="1"/>
<text x="35.0" y="115.4" font-size="10.3" text-anchor="end" font-family='"Liberation Sans", sans-serif' font-weight="bold"  textLength="4.3" lengthAdjust="spacingAndGlyphs">0</text>
<path d="M39.2,80.9 H43.0" stroke="#000" stroke-width="1"/>
<text x="35.0" y="83.4" font-size="10.3" text-anchor="end" font-family='"Liberation Sans", sans-serif' font-weight="bold"  textLength="17.4" lengthAdjust="spacingAndGlyphs">2000</text>
<path d="M39.2,48.8 H43.0" stroke="#000" stroke-width="1"/>
<text x="35.0" y="51.3" font-size="10.3" text-anchor="end" font-family='"Liberation Sans", sans-serif' font-weight="bold"  textLength="17.4" lengthAdjust="spacingAndGlyphs">4000</text>
<path d="M39.2,16.8 H43.0" stroke="#000" stroke-width="1"/>
<text x="35.0" y="19.3" font-size="10.3" text-anchor="end" font-family='"Liberation Sans", sans-serif' font-weight="bold"  textLength="17.4" lengthAdjust="spacingAndGlyphs">6000</text>
<path d="M43.0,112.5 l-4.0,3.8" stroke="#000" stroke-width="1"/>
<text x="34.5" y="129.0" font-size="10.3" text-anchor="middle" font-family='"Liberation Sans", sans-serif' font-weight="bold"  textLength="4.3" lengthAdjust="spacingAndGlyphs">0</text>
<path d="M78.6,123.9 l-4.0,3.8" stroke="#000" stroke-width="1"/>
<text x="68.0" y="139.4" font-size="10.3" text-anchor="middle" font-family='"Liberation Sans", sans-serif' font-weight="bold"  textLength="8.7" lengthAdjust="spacingAndGlyphs">20</text>
<path d="M114.1,135.3 l-4.0,3.8" stroke="#000" stroke-width="1"/>
<text x="102.8" y="150.2" font-size="10.3" text-anchor="middle" font-family='"Liberation Sans", sans-serif' font-weight="bold"  textLength="8.7" lengthAdjust="spacingAndGlyphs">40</text>
<path d="M149.7,146.7 l-4.0,3.8" stroke="#000" stroke-width="1"/>
<text x="137.5" y="161.2" font-size="10.3" text-anchor="middle" font-family='"Liberation Sans", sans-serif' font-weight="bold"  textLength="8.7" lengthAdjust="spacingAndGlyphs">60</text>
<path d="M185.2,158.1 l-4.0,3.8" stroke="#000" stroke-width="1"/>
<text x="175.0" y="172.7" font-size="10.3" text-anchor="middle" font-family='"Liberation Sans", sans-serif' font-weight="bold"  textLength="8.7" lengthAdjust="spacingAndGlyphs">80</text>
<path d="M220.8,169.5 l-4.0,3.8" stroke="#000" stroke-width="1"/>
<text x="207.0" y="183.7" font-size="10.3" text-anchor="middle" font-family='"Liberation Sans", sans-serif' font-weight="bold"  textLength="13.0" lengthAdjust="spacingAndGlyphs">100</text>
<path d="M220.8,169.5 l5.2,1.7" stroke="#000" stroke-width="1"/>
<text x="229.2" y="181.7" font-size="10.3" text-anchor="middle" font-family='"Liberation Sans", sans-serif' font-weight="bold"  textLength="4.3" lengthAdjust="spacingAndGlyphs">0</text>
<path d="M241.9,149.3 l5.2,1.7" stroke="#000" stroke-width="1"/>
<text x="253.7" y="160.5" font-size="10.3" text-anchor="middle" font-family='"Liberation Sans", sans-serif' font-weight="bold"  textLength="8.7" lengthAdjust="spacingAndGlyphs">20</text>
<path d="M263.0,129.1 l5.2,1.7" stroke="#000" stroke-width="1"/>
<text x="275.0" y="140.7" font-size="10.3" text-anchor="middle" font-family='"Liberation Sans", sans-serif' font-weight="bold"  textLength="8.7" lengthAdjust="spacingAndGlyphs">40</text>
<path d="M284.1,108.9 l5.2,1.7" stroke="#000" stroke-width="1"/>
<text x="296.6" y="120.5" font-size="10.3" text-anchor="middle" font-family='"Liberation Sans", sans-serif' font-weight="bold"  textLength="8.7" lengthAdjust="spacingAndGlyphs">60</text>
<path d="M305.2,88.7 l5.2,1.7" stroke="#000" stroke-width="1"/>
<text x="317.9" y="99.9" font-size="10.3" text-anchor="middle" font-family='"Liberation Sans", sans-serif' font-weight="bold"  textLength="8.7" lengthAdjust="spacingAndGlyphs">80</text>
<path d="M43.0,112.5 L220.8,169.5 L324.0,73.0" stroke="#000" stroke-width="0.6" fill="none"/>
<text transform="translate(8.8,66.9) rotate(-90)" font-size="10.8" textLength="88" lengthAdjust="spacing" text-anchor="middle" font-family='"Liberation Serif", serif'>Intensity (mW/cm<tspan dy="-3.5" font-size="6.5">2</tspan><tspan dy="3.5">)</tspan></text>
<text x="106.5" y="176.3" font-size="12" text-anchor="middle" font-family='"Liberation Serif", serif' font-weight="normal" textLength="32.5">x (μm)</text>
<text x="306.7" y="151.5" font-size="12" text-anchor="middle" font-family='"Liberation Serif", serif' font-weight="normal" textLength="32.5">y (μm)</text>
<text x="2.8" y="181.7" font-size="10.3" text-anchor="start" font-family='"Liberation Sans", sans-serif' font-weight="normal" >(a)</text>
<polygon points="50.5,378.6 153,282.5 332.2,339.8 229,435.8" fill="url(#sb)"/>
<path d="M50.5,378.6 L229,435.8 L332.2,339.8" stroke="#2a44e0" stroke-width="1.6" fill="none" stroke-linejoin="round"/>
<g filter="url(#bl)">
<path d="M157.55,206.60 L157.20,209.74 L156.80,216.03 L156.40,230.18 L155.90,241.97 L155.70,249.83 L155.50,265.55 L155.00,272.62 L154.10,278.91 L152.60,285.20 L152.70,286.40 L163.10,286.40 L163.20,285.20 L161.70,278.91 L160.80,272.62 L160.30,265.55 L160.10,249.83 L159.90,241.97 L159.40,230.18 L159.00,216.03 L158.60,209.74 L158.25,206.60Z" fill="url(#g06)"/>
<path d="M182.95,212.00 L182.60,215.25 L182.20,221.76 L181.80,236.41 L181.30,248.61 L181.10,256.74 L180.90,273.01 L180.40,280.33 L179.50,286.84 L178.00,293.35 L178.10,294.55 L188.50,294.55 L188.60,293.35 L187.10,286.84 L186.20,280.33 L185.70,273.01 L185.50,256.74 L185.30,248.61 L184.80,236.41 L184.40,221.76 L184.00,215.25 L183.65,212.00Z" fill="url(#g16)"/>
<path d="M208.35,219.50 L208.00,222.78 L207.60,229.34 L207.20,244.10 L206.70,256.40 L206.50,264.60 L206.30,281.00 L205.80,288.38 L204.90,294.94 L203.40,301.50 L203.50,302.70 L213.90,302.70 L214.00,301.50 L212.50,294.94 L211.60,288.38 L211.10,281.00 L210.90,264.60 L210.70,256.40 L210.20,244.10 L209.80,229.34 L209.40,222.78 L209.05,219.50Z" fill="url(#g26)"/>
<path d="M233.75,223.40 L233.40,226.85 L233.00,233.75 L232.60,249.28 L232.10,262.21 L231.90,270.84 L231.70,288.09 L231.20,295.85 L230.30,302.75 L228.80,309.65 L228.90,310.85 L239.30,310.85 L239.40,309.65 L237.90,302.75 L237.00,295.85 L236.50,288.09 L236.30,270.84 L236.10,262.21 L235.60,249.28 L235.20,233.75 L234.80,226.85 L234.45,223.40Z" fill="url(#g36)"/>
<path d="M259.15,232.20 L258.80,235.62 L258.40,242.47 L258.00,257.88 L257.50,270.72 L257.30,279.28 L257.10,296.40 L256.60,304.10 L255.70,310.95 L254.20,317.80 L254.30,319.00 L264.70,319.00 L264.80,317.80 L263.30,310.95 L262.40,304.10 L261.90,296.40 L261.70,279.28 L261.50,270.72 L261.00,257.88 L260.60,242.47 L260.20,235.62 L259.85,232.20Z" fill="url(#g46)"/>
<path d="M284.55,240.70 L284.20,244.11 L283.80,250.93 L283.40,266.28 L282.90,279.06 L282.70,287.59 L282.50,304.64 L282.00,312.31 L281.10,319.13 L279.60,325.95 L279.70,327.15 L290.10,327.15 L290.20,325.95 L288.70,319.13 L287.80,312.31 L287.30,304.64 L287.10,287.59 L286.90,279.06 L286.40,266.28 L286.00,250.93 L285.60,244.11 L285.25,240.70Z" fill="url(#g56)"/>
<path d="M309.95,247.50 L309.60,250.96 L309.20,257.89 L308.80,273.48 L308.30,286.47 L308.10,295.13 L307.90,312.45 L307.40,320.24 L306.50,327.17 L305.00,334.10 L305.10,335.30 L315.50,335.30 L315.60,334.10 L314.10,327.17 L313.20,320.24 L312.70,312.45 L312.50,295.13 L312.30,286.47 L311.80,273.48 L311.40,257.89 L311.00,250.96 L310.65,247.50Z" fill="url(#g66)"/>
<path d="M141.95,222.00 L141.60,225.12 L141.20,231.37 L140.80,245.43 L140.30,257.14 L140.10,264.96 L139.90,280.58 L139.40,287.60 L138.50,293.85 L137.00,300.10 L137.10,301.30 L147.50,301.30 L147.60,300.10 L146.10,293.85 L145.20,287.60 L144.70,280.58 L144.50,264.96 L144.30,257.14 L143.80,245.43 L143.40,231.37 L143.00,225.12 L142.65,222.00Z" fill="url(#g05)"/>
<path d="M167.40,228.00 L167.10,231.21 L166.80,237.63 L166.45,252.07 L165.90,264.11 L165.55,272.14 L165.25,288.19 L165.05,295.41 L164.80,301.83 L164.30,308.25 L164.30,309.45 L171.10,309.45 L171.10,308.25 L170.60,301.83 L170.35,295.41 L170.15,288.19 L169.85,272.14 L169.50,264.11 L168.95,252.07 L168.60,237.63 L168.30,231.21 L168.00,228.00Z" fill="url(#g15)"/>
<path d="M192.80,236.70 L192.50,239.89 L192.20,246.26 L191.85,260.61 L191.30,272.56 L190.95,280.54 L190.65,296.48 L190.45,303.65 L190.20,310.02 L189.70,316.40 L189.70,317.60 L196.50,317.60 L196.50,316.40 L196.00,310.02 L195.75,303.65 L195.55,296.48 L195.25,280.54 L194.90,272.56 L194.35,260.61 L194.00,246.26 L193.70,239.89 L193.40,236.70Z" fill="url(#g25)"/>
<path d="M218.20,242.00 L217.90,245.30 L217.60,251.91 L217.25,266.76 L216.70,279.15 L216.35,287.40 L216.05,303.91 L215.85,311.34 L215.60,317.95 L215.10,324.55 L215.10,325.75 L221.90,325.75 L221.90,324.55 L221.40,317.95 L221.15,311.34 L220.95,303.91 L220.65,287.40 L220.30,279.15 L219.75,266.76 L219.40,251.91 L219.10,245.30 L218.80,242.00Z" fill="url(#g35)"/>
<path d="M243.60,250.20 L243.30,253.50 L243.00,260.10 L242.65,274.95 L242.10,287.32 L241.75,295.58 L241.45,312.08 L241.25,319.50 L241.00,326.10 L240.50,332.70 L240.50,333.90 L247.30,333.90 L247.30,332.70 L246.80,326.10 L246.55,319.50 L246.35,312.08 L246.05,295.58 L245.70,287.32 L245.15,274.95 L244.80,260.10 L244.50,253.50 L244.20,250.20Z" fill="url(#g45)"/>
<path d="M269.00,257.70 L268.70,261.03 L268.40,267.68 L268.05,282.64 L267.50,295.12 L267.15,303.43 L266.85,320.06 L266.65,327.55 L266.40,334.20 L265.90,340.85 L265.90,342.05 L272.70,342.05 L272.70,340.85 L272.20,334.20 L271.95,327.55 L271.75,320.06 L271.45,303.43 L271.10,295.12 L270.55,282.64 L270.20,267.68 L269.90,261.03 L269.60,257.70Z" fill="url(#g55)"/>
<path d="M294.40,266.80 L294.10,270.09 L293.80,276.66 L293.45,291.46 L292.90,303.79 L292.55,312.01 L292.25,328.45 L292.05,335.85 L291.80,342.42 L291.30,349.00 L291.30,350.20 L298.10,350.20 L298.10,349.00 L297.60,342.42 L297.35,335.85 L297.15,328.45 L296.85,312.01 L296.50,303.79 L295.95,291.46 L295.60,276.66 L295.30,270.09 L295.00,266.80Z" fill="url(#g65)"/>
<path d="M126.35,238.70 L126.00,241.75 L125.60,247.86 L125.20,261.59 L124.70,273.03 L124.50,280.67 L124.30,295.93 L123.80,302.79 L122.90,308.90 L121.40,315.00 L121.50,316.20 L131.90,316.20 L132.00,315.00 L130.50,308.90 L129.60,302.79 L129.10,295.93 L128.90,280.67 L128.70,273.03 L128.20,261.59 L127.80,247.86 L127.40,241.75 L127.05,238.70Z" fill="url(#g04)"/>
<path d="M151.80,247.50 L151.50,250.53 L151.20,256.58 L150.85,270.19 L150.30,281.54 L149.95,289.11 L149.65,304.24 L149.45,311.05 L149.20,317.10 L148.70,323.15 L148.70,324.35 L155.50,324.35 L155.50,323.15 L155.00,317.10 L154.75,311.05 L154.55,304.24 L154.25,289.11 L153.90,281.54 L153.35,270.19 L153.00,256.58 L152.70,250.53 L152.40,247.50Z" fill="url(#g14)"/>
<path d="M177.20,250.50 L176.90,253.73 L176.60,260.20 L176.25,274.74 L175.70,286.86 L175.35,294.94 L175.05,311.10 L174.85,318.37 L174.60,324.84 L174.10,331.30 L174.10,332.50 L180.90,332.50 L180.90,331.30 L180.40,324.84 L180.15,318.37 L179.95,311.10 L179.65,294.94 L179.30,286.86 L178.75,274.74 L178.40,260.20 L178.10,253.73 L177.80,250.50Z" fill="url(#g24)"/>
<path d="M202.60,263.50 L202.30,266.54 L202.00,272.61 L201.65,286.28 L201.10,297.68 L200.75,305.27 L200.45,320.46 L200.25,327.30 L200.00,333.37 L199.50,339.45 L199.50,340.65 L206.30,340.65 L206.30,339.45 L205.80,333.37 L205.55,327.30 L205.35,320.46 L205.05,305.27 L204.70,297.68 L204.15,286.28 L203.80,272.61 L203.50,266.54 L203.20,263.50Z" fill="url(#g34)"/>
<path d="M228.00,265.00 L227.70,268.30 L227.40,274.91 L227.05,289.78 L226.50,302.17 L226.15,310.43 L225.85,326.95 L225.65,334.38 L225.40,340.99 L224.90,347.60 L224.90,348.80 L231.70,348.80 L231.70,347.60 L231.20,340.99 L230.95,334.38 L230.75,326.95 L230.45,310.43 L230.10,302.17 L229.55,289.78 L229.20,274.91 L228.90,268.30 L228.60,265.00Z" fill="url(#g44)"/>
<path d="M253.40,274.60 L253.10,277.85 L252.80,284.34 L252.45,298.95 L251.90,311.12 L251.55,319.23 L251.25,335.46 L251.05,342.77 L250.80,349.26 L250.30,355.75 L250.30,356.95 L257.10,356.95 L257.10,355.75 L256.60,349.26 L256.35,342.77 L256.15,335.46 L255.85,319.23 L255.50,311.12 L254.95,298.95 L254.60,284.34 L254.30,277.85 L254.00,274.60Z" fill="url(#g54)"/>
<path d="M278.80,281.40 L278.50,284.70 L278.20,291.30 L277.85,306.15 L277.30,318.52 L276.95,326.77 L276.65,343.27 L276.45,350.70 L276.20,357.30 L275.70,363.90 L275.70,365.10 L282.50,365.10 L282.50,363.90 L282.00,357.30 L281.75,350.70 L281.55,343.27 L281.25,326.77 L280.90,318.52 L280.35,306.15 L280.00,291.30 L279.70,284.70 L279.40,281.40Z" fill="url(#g64)"/>
<path d="M110.75,256.00 L110.40,258.96 L110.00,264.87 L109.60,278.17 L109.10,289.25 L108.90,296.65 L108.70,311.43 L108.20,318.08 L107.30,323.99 L105.80,329.90 L105.90,331.10 L116.30,331.10 L116.40,329.90 L114.90,323.99 L114.00,318.08 L113.50,311.43 L113.30,296.65 L113.10,289.25 L112.60,278.17 L112.20,264.87 L111.80,258.96 L111.45,256.00Z" fill="url(#g03)"/>
<path d="M136.20,262.60 L135.90,265.62 L135.60,271.65 L135.25,285.24 L134.70,296.55 L134.35,304.10 L134.05,319.19 L133.85,325.98 L133.60,332.01 L133.10,338.05 L133.10,339.25 L139.90,339.25 L139.90,338.05 L139.40,332.01 L139.15,325.98 L138.95,319.19 L138.65,304.10 L138.30,296.55 L137.75,285.24 L137.40,271.65 L137.10,265.62 L136.80,262.60Z" fill="url(#g13)"/>
<path d="M161.60,270.50 L161.30,273.53 L161.00,279.58 L160.65,293.21 L160.10,304.57 L159.75,312.14 L159.45,327.28 L159.25,334.09 L159.00,340.14 L158.50,346.20 L158.50,347.40 L165.30,347.40 L165.30,346.20 L164.80,340.14 L164.55,334.09 L164.35,327.28 L164.05,312.14 L163.70,304.57 L163.15,293.21 L162.80,279.58 L162.50,273.53 L162.20,270.50Z" fill="url(#g23)"/>
<path d="M187.00,278.50 L186.70,281.53 L186.40,287.60 L186.05,301.25 L185.50,312.63 L185.15,320.22 L184.85,335.39 L184.65,342.21 L184.40,348.28 L183.90,354.35 L183.90,355.55 L190.70,355.55 L190.70,354.35 L190.20,348.28 L189.95,342.21 L189.75,335.39 L189.45,320.22 L189.10,312.63 L188.55,301.25 L188.20,287.60 L187.90,281.53 L187.60,278.50Z" fill="url(#g33)"/>
<path d="M212.40,283.00 L212.10,286.18 L211.80,292.54 L211.45,306.85 L210.90,318.78 L210.55,326.73 L210.25,342.63 L210.05,349.78 L209.80,356.14 L209.30,362.50 L209.30,363.70 L216.10,363.70 L216.10,362.50 L215.60,356.14 L215.35,349.78 L215.15,342.63 L214.85,326.73 L214.50,318.78 L213.95,306.85 L213.60,292.54 L213.30,286.18 L213.00,283.00Z" fill="url(#g43)"/>
<path d="M237.80,290.50 L237.50,293.71 L237.20,300.12 L236.85,314.55 L236.30,326.57 L235.95,334.58 L235.65,350.61 L235.45,357.83 L235.20,364.24 L234.70,370.65 L234.70,371.85 L241.50,371.85 L241.50,370.65 L241.00,364.24 L240.75,357.83 L240.55,350.61 L240.25,334.58 L239.90,326.57 L239.35,314.55 L239.00,300.12 L238.70,293.71 L238.40,290.50Z" fill="url(#g53)"/>
<path d="M263.20,305.50 L262.90,308.43 L262.60,314.30 L262.25,327.49 L261.70,338.49 L261.35,345.81 L261.05,360.48 L260.85,367.07 L260.60,372.94 L260.10,378.80 L260.10,380.00 L266.90,380.00 L266.90,378.80 L266.40,372.94 L266.15,367.07 L265.95,360.48 L265.65,345.81 L265.30,338.49 L264.75,327.49 L264.40,314.30 L264.10,308.43 L263.80,305.50Z" fill="url(#g63)"/>
<path d="M95.15,271.60 L94.80,274.53 L94.40,280.38 L94.00,293.56 L93.50,304.54 L93.30,311.86 L93.10,326.50 L92.60,333.09 L91.70,338.94 L90.20,344.80 L90.30,346.00 L100.70,346.00 L100.80,344.80 L99.30,338.94 L98.40,333.09 L97.90,326.50 L97.70,311.86 L97.50,304.54 L97.00,293.56 L96.60,280.38 L96.20,274.53 L95.85,271.60Z" fill="url(#g02)"/>
<path d="M120.60,282.50 L120.30,285.32 L120.00,290.95 L119.65,303.63 L119.10,314.20 L118.75,321.25 L118.45,335.34 L118.25,341.68 L118.00,347.31 L117.50,352.95 L117.50,354.15 L124.30,354.15 L124.30,352.95 L123.80,347.31 L123.55,341.68 L123.35,335.34 L123.05,321.25 L122.70,314.20 L122.15,303.63 L121.80,290.95 L121.50,285.32 L121.20,282.50Z" fill="url(#g12)"/>
<path d="M146.00,292.00 L145.70,294.76 L145.40,300.29 L145.05,312.73 L144.50,323.10 L144.15,330.00 L143.85,343.83 L143.65,350.04 L143.40,355.57 L142.90,361.10 L142.90,362.30 L149.70,362.30 L149.70,361.10 L149.20,355.57 L148.95,350.04 L148.75,343.83 L148.45,330.00 L148.10,323.10 L147.55,312.73 L147.20,300.29 L146.90,294.76 L146.60,292.00Z" fill="url(#g22)"/>
<path d="M171.40,298.00 L171.10,300.85 L170.80,306.55 L170.45,319.38 L169.90,330.06 L169.55,337.19 L169.25,351.44 L169.05,357.85 L168.80,363.55 L168.30,369.25 L168.30,370.45 L175.10,370.45 L175.10,369.25 L174.60,363.55 L174.35,357.85 L174.15,351.44 L173.85,337.19 L173.50,330.06 L172.95,319.38 L172.60,306.55 L172.30,300.85 L172.00,298.00Z" fill="url(#g32)"/>
<path d="M196.80,299.50 L196.50,302.62 L196.20,308.85 L195.85,322.87 L195.30,334.56 L194.95,342.35 L194.65,357.93 L194.45,364.94 L194.20,371.17 L193.70,377.40 L193.70,378.60 L200.50,378.60 L200.50,377.40 L200.00,371.17 L199.75,364.94 L199.55,357.93 L199.25,342.35 L198.90,334.56 L198.35,322.87 L198.00,308.85 L197.70,302.62 L197.40,299.50Z" fill="url(#g42)"/>
<path d="M222.20,304.00 L221.90,307.26 L221.60,313.79 L221.25,328.47 L220.70,340.70 L220.35,348.85 L220.05,365.16 L219.85,372.50 L219.60,379.03 L219.10,385.55 L219.10,386.75 L225.90,386.75 L225.90,385.55 L225.40,379.03 L225.15,372.50 L224.95,365.16 L224.65,348.85 L224.30,340.70 L223.75,328.47 L223.40,313.79 L223.10,307.26 L222.80,304.00Z" fill="url(#g52)"/>
<path d="M247.60,310.00 L247.30,313.35 L247.00,320.04 L246.65,335.11 L246.10,347.66 L245.75,356.03 L245.45,372.77 L245.25,380.31 L245.00,387.00 L244.50,393.70 L244.50,394.90 L251.30,394.90 L251.30,393.70 L250.80,387.00 L250.55,380.31 L250.35,372.77 L250.05,356.03 L249.70,347.66 L249.15,335.11 L248.80,320.04 L248.50,313.35 L248.20,310.00Z" fill="url(#g62)"/>
<path d="M79.55,286.00 L79.20,288.95 L78.80,294.84 L78.40,308.11 L77.90,319.17 L77.70,326.54 L77.50,341.28 L77.00,347.91 L76.10,353.80 L74.60,359.70 L74.70,360.90 L85.10,360.90 L85.20,359.70 L83.70,353.80 L82.80,347.91 L82.30,341.28 L82.10,326.54 L81.90,319.17 L81.40,308.11 L81.00,294.84 L80.60,288.95 L80.25,286.00Z" fill="url(#g01)"/>
<path d="M105.00,297.60 L104.70,300.41 L104.40,306.03 L104.05,318.68 L103.50,329.21 L103.15,336.24 L102.85,350.29 L102.65,356.61 L102.40,362.23 L101.90,367.85 L101.90,369.05 L108.70,369.05 L108.70,367.85 L108.20,362.23 L107.95,356.61 L107.75,350.29 L107.45,336.24 L107.10,329.21 L106.55,318.68 L106.20,306.03 L105.90,300.41 L105.60,297.60Z" fill="url(#g11)"/>
<path d="M130.40,308.00 L130.10,310.72 L129.80,316.16 L129.45,328.40 L128.90,338.60 L128.55,345.40 L128.25,359.00 L128.05,365.12 L127.80,370.56 L127.30,376.00 L127.30,377.20 L134.10,377.20 L134.10,376.00 L133.60,370.56 L133.35,365.12 L133.15,359.00 L132.85,345.40 L132.50,338.60 L131.95,328.40 L131.60,316.16 L131.30,310.72 L131.00,308.00Z" fill="url(#g21)"/>
<path d="M155.80,314.00 L155.50,316.81 L155.20,322.42 L154.85,335.05 L154.30,345.57 L153.95,352.58 L153.65,366.61 L153.45,372.93 L153.20,378.54 L152.70,384.15 L152.70,385.35 L159.50,385.35 L159.50,384.15 L159.00,378.54 L158.75,372.93 L158.55,366.61 L158.25,352.58 L157.90,345.57 L157.35,335.05 L157.00,322.42 L156.70,316.81 L156.40,314.00Z" fill="url(#g31)"/>
<path d="M181.20,327.00 L180.90,329.61 L180.60,334.84 L180.25,346.59 L179.70,356.39 L179.35,362.92 L179.05,375.98 L178.85,381.85 L178.60,387.08 L178.10,392.30 L178.10,393.50 L184.90,393.50 L184.90,392.30 L184.40,387.08 L184.15,381.85 L183.95,375.98 L183.65,362.92 L183.30,356.39 L182.75,346.59 L182.40,334.84 L182.10,329.61 L181.80,327.00Z" fill="url(#g41)"/>
<path d="M206.60,331.00 L206.30,333.78 L206.00,339.33 L205.65,351.84 L205.10,362.25 L204.75,369.20 L204.45,383.09 L204.25,389.34 L204.00,394.89 L203.50,400.45 L203.50,401.65 L210.30,401.65 L210.30,400.45 L209.80,394.89 L209.55,389.34 L209.35,383.09 L209.05,369.20 L208.70,362.25 L208.15,351.84 L207.80,339.33 L207.50,333.78 L207.20,331.00Z" fill="url(#g51)"/>
<path d="M232.00,337.60 L231.70,340.44 L231.40,346.12 L231.05,358.90 L230.50,369.55 L230.15,376.65 L229.85,390.85 L229.65,397.24 L229.40,402.92 L228.90,408.60 L228.90,409.80 L235.70,409.80 L235.70,408.60 L235.20,402.92 L234.95,397.24 L234.75,390.85 L234.45,376.65 L234.10,369.55 L233.55,358.90 L233.20,346.12 L232.90,340.44 L232.60,337.60Z" fill="url(#g61)"/>
<path d="M63.95,306.50 L63.60,309.22 L63.20,314.67 L62.80,326.93 L62.30,337.14 L62.10,343.96 L61.90,357.58 L61.40,363.70 L60.50,369.15 L59.00,374.60 L59.10,375.80 L69.50,375.80 L69.60,374.60 L68.10,369.15 L67.20,363.70 L66.70,357.58 L66.50,343.96 L66.30,337.14 L65.80,326.93 L65.40,314.67 L65.00,309.22 L64.65,306.50Z" fill="url(#g00)"/>
<path d="M89.40,307.70 L89.10,310.70 L88.80,316.71 L88.45,330.21 L87.90,341.47 L87.55,348.98 L87.25,363.99 L87.05,370.74 L86.80,376.75 L86.30,382.75 L86.30,383.95 L93.10,383.95 L93.10,382.75 L92.60,376.75 L92.35,370.74 L92.15,363.99 L91.85,348.98 L91.50,341.47 L90.95,330.21 L90.60,316.71 L90.30,310.70 L90.00,307.70Z" fill="url(#g10)"/>
<path d="M114.80,323.60 L114.50,326.29 L114.20,331.68 L113.85,343.79 L113.30,353.89 L112.95,360.62 L112.65,374.08 L112.45,380.13 L112.20,385.52 L111.70,390.90 L111.70,392.10 L118.50,392.10 L118.50,390.90 L118.00,385.52 L117.75,380.13 L117.55,374.08 L117.25,360.62 L116.90,353.89 L116.35,343.79 L116.00,331.68 L115.70,326.29 L115.40,323.60Z" fill="url(#g20)"/>
<path d="M140.20,333.00 L139.90,335.64 L139.60,340.93 L139.25,352.81 L138.70,362.72 L138.35,369.33 L138.05,382.54 L137.85,388.48 L137.60,393.77 L137.10,399.05 L137.10,400.25 L143.90,400.25 L143.90,399.05 L143.40,393.77 L143.15,388.48 L142.95,382.54 L142.65,369.33 L142.30,362.72 L141.75,352.81 L141.40,340.93 L141.10,335.64 L140.80,333.00Z" fill="url(#g30)"/>
<path d="M165.60,343.00 L165.30,345.57 L165.00,350.70 L164.65,362.26 L164.10,371.89 L163.75,378.31 L163.45,391.15 L163.25,396.93 L163.00,402.06 L162.50,407.20 L162.50,408.40 L169.30,408.40 L169.30,407.20 L168.80,402.06 L168.55,396.93 L168.35,391.15 L168.05,378.31 L167.70,371.89 L167.15,362.26 L166.80,350.70 L166.50,345.57 L166.20,343.00Z" fill="url(#g40)"/>
<path d="M191.00,345.70 L190.70,348.49 L190.40,354.06 L190.05,366.60 L189.50,377.04 L189.15,384.01 L188.85,397.94 L188.65,404.21 L188.40,409.78 L187.90,415.35 L187.90,416.55 L194.70,416.55 L194.70,415.35 L194.20,409.78 L193.95,404.21 L193.75,397.94 L193.45,384.01 L193.10,377.04 L192.55,366.60 L192.20,354.06 L191.90,348.49 L191.60,345.70Z" fill="url(#g50)"/>
<path d="M216.40,355.00 L216.10,357.74 L215.80,363.22 L215.45,375.55 L214.90,385.82 L214.55,392.68 L214.25,406.38 L214.05,412.54 L213.80,418.02 L213.30,423.50 L213.30,424.70 L220.10,424.70 L220.10,423.50 L219.60,418.02 L219.35,412.54 L219.15,406.38 L218.85,392.68 L218.50,385.82 L217.95,375.55 L217.60,363.22 L217.30,357.74 L217.00,355.00Z" fill="url(#g60)"/>
</g>
<path d="M51.5,266.0 V379.1" stroke="#000" stroke-width="1.1" fill="none"/>
<path d="M46.7,378.8 H50.5" stroke="#000" stroke-width="1"/>
<text x="44.2" y="381.3" font-size="10.6" text-anchor="end" font-family='"Liberation Sans", sans-serif' font-weight="bold"  textLength="4.6" lengthAdjust="spacingAndGlyphs">0</text>
<path d="M46.7,346.7 H50.5" stroke="#000" stroke-width="1"/>
<text x="44.2" y="349.2" font-size="10.6" text-anchor="end" font-family='"Liberation Sans", sans-serif' font-weight="bold"  textLength="18.4" lengthAdjust="spacingAndGlyphs">2000</text>
<path d="M46.7,314.6 H50.5" stroke="#000" stroke-width="1"/>
<text x="44.2" y="317.1" font-size="10.6" text-anchor="end" font-family='"Liberation Sans", sans-serif' font-weight="bold"  textLength="18.4" lengthAdjust="spacingAndGlyphs">4000</text>
<path d="M46.7,282.5 H50.5" stroke="#000" stroke-width="1"/>
<text x="44.2" y="285.0" font-size="10.6" text-anchor="end" font-family='"Liberation Sans", sans-serif' font-weight="bold"  textLength="18.4" lengthAdjust="spacingAndGlyphs">6000</text>
<path d="M50.5,378.6 l-4.0,3.7" stroke="#000" stroke-width="1"/>
<text x="42.2" y="395.2" font-size="10.6" text-anchor="middle" font-family='"Liberation Sans", sans-serif' font-weight="bold"  textLength="4.6" lengthAdjust="spacingAndGlyphs">0</text>
<path d="M86.2,390.0 l-4.0,3.7" stroke="#000" stroke-width="1"/>
<text x="76.6" y="407.9" font-size="10.6" text-anchor="middle" font-family='"Liberation Sans", sans-serif' font-weight="bold"  textLength="9.2" lengthAdjust="spacingAndGlyphs">20</text>
<path d="M121.9,401.5 l-4.0,3.7" stroke="#000" stroke-width="1"/>
<text x="110.8" y="418.7" font-size="10.6" text-anchor="middle" font-family='"Liberation Sans", sans-serif' font-weight="bold"  textLength="9.2" lengthAdjust="spacingAndGlyphs">40</text>
<path d="M157.6,412.9 l-4.0,3.7" stroke="#000" stroke-width="1"/>
<text x="147.0" y="428.9" font-size="10.6" text-anchor="middle" font-family='"Liberation Sans", sans-serif' font-weight="bold"  textLength="9.2" lengthAdjust="spacingAndGlyphs">60</text>
<path d="M193.3,424.4 l-4.0,3.7" stroke="#000" stroke-width="1"/>
<text x="181.5" y="439.7" font-size="10.6" text-anchor="middle" font-family='"Liberation Sans", sans-serif' font-weight="bold"  textLength="9.2" lengthAdjust="spacingAndGlyphs">80</text>
<path d="M229.0,435.8 l-4.0,3.7" stroke="#000" stroke-width="1"/>
<text x="215.0" y="450.3" font-size="10.6" text-anchor="middle" font-family='"Liberation Sans", sans-serif' font-weight="bold"  textLength="13.8" lengthAdjust="spacingAndGlyphs">100</text>
<path d="M229.0,435.8 l5.2,1.7" stroke="#000" stroke-width="1"/>
<text x="237.0" y="448.1" font-size="10.6" text-anchor="middle" font-family='"Liberation Sans", sans-serif' font-weight="bold"  textLength="4.6" lengthAdjust="spacingAndGlyphs">0</text>
<path d="M251.0,415.2 l5.2,1.7" stroke="#000" stroke-width="1"/>
<text x="261.5" y="426.9" font-size="10.6" text-anchor="middle" font-family='"Liberation Sans", sans-serif' font-weight="bold"  textLength="9.2" lengthAdjust="spacingAndGlyphs">20</text>
<path d="M273.0,394.6 l5.2,1.7" stroke="#000" stroke-width="1"/>
<text x="283.5" y="406.5" font-size="10.6" text-anchor="middle" font-family='"Liberation Sans", sans-serif' font-weight="bold"  textLength="9.2" lengthAdjust="spacingAndGlyphs">40</text>
<path d="M295.0,374.0 l5.2,1.7" stroke="#000" stroke-width="1"/>
<text x="306.0" y="386.1" font-size="10.6" text-anchor="middle" font-family='"Liberation Sans", sans-serif' font-weight="bold"  textLength="9.2" lengthAdjust="spacingAndGlyphs">60</text>
<path d="M317.0,353.4 l5.2,1.7" stroke="#000" stroke-width="1"/>
<text x="326.3" y="365.1" font-size="10.6" text-anchor="middle" font-family='"Liberation Sans", sans-serif' font-weight="bold"  textLength="9.2" lengthAdjust="spacingAndGlyphs">80</text>
<path d="M50.5,378.6 L229.0,435.8 L332.2,339.8" stroke="#000" stroke-width="0.6" fill="none"/>
<text transform="translate(18.6,343) rotate(-90)" font-size="12" textLength="97.5" lengthAdjust="spacing" text-anchor="middle" font-family='"Liberation Serif", serif'>Intensity (mW/cm<tspan dy="-3.8" font-size="7">2</tspan><tspan dy="3.8">)</tspan></text>
<text x="115.1" y="443.2" font-size="12.4" text-anchor="middle" font-family='"Liberation Serif", serif' font-weight="normal" textLength="33.5">x (μm)</text>
<text x="313.1" y="417.4" font-size="12.4" text-anchor="middle" font-family='"Liberation Serif", serif' font-weight="normal" textLength="34">y (μm)</text>
<text x="3.2" y="446.2" font-size="10.3" text-anchor="start" font-family='"Liberation Sans", sans-serif' font-weight="normal" >(b)</text>
</svg></body></html>
